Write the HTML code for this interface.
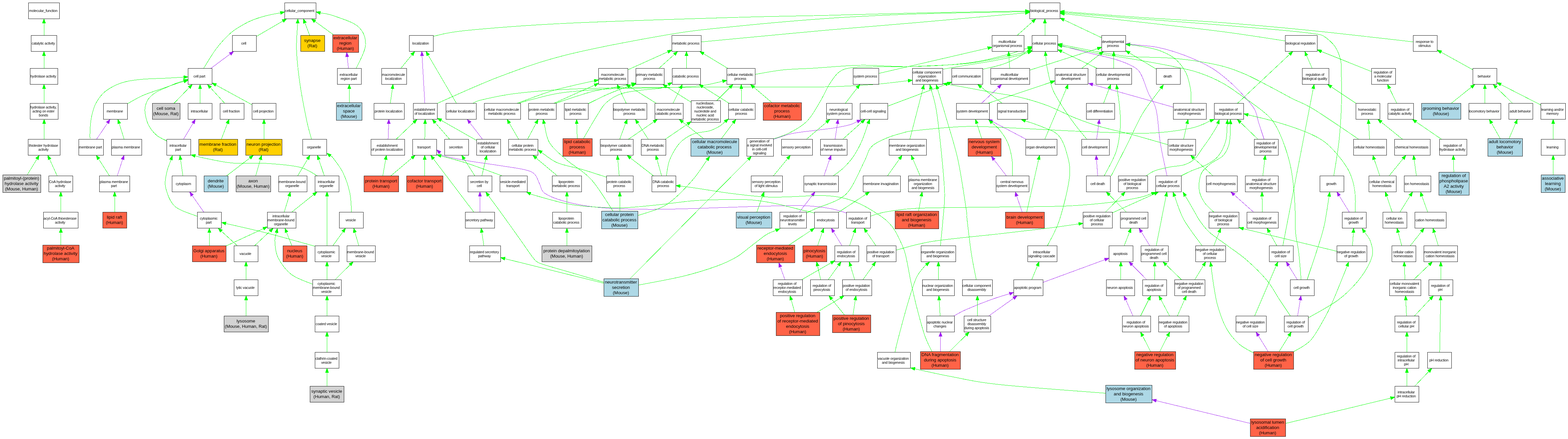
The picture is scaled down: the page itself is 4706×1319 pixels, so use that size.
<!DOCTYPE html>
<html lang="en"><head><meta charset="utf-8"><title>GO term graph</title>
<style>
html,body{margin:0;padding:0;background:#fff}
svg{display:block;will-change:transform}
text{font-family:"Liberation Sans",Arial,Helvetica,sans-serif;text-anchor:middle;fill:#000}
.s{font-size:10.67px;letter-spacing:-0.24px}
.b{font-size:13.33px;letter-spacing:-0.05px}
.n{stroke:#000;stroke-width:1;shape-rendering:crispEdges}
.g{stroke:#00ff00;fill:none;stroke-width:1;shape-rendering:crispEdges}
.p{stroke:#a020f0;fill:none;stroke-width:1;shape-rendering:crispEdges}
.ga{fill:#00ff00;stroke:#00ff00;stroke-width:1;shape-rendering:crispEdges}
.pa{fill:#a020f0;stroke:#a020f0;stroke-width:1;shape-rendering:crispEdges}
</style></head>
<body>
<svg width="4706" height="1319" viewBox="0 0 4706 1319">
<rect x="0" y="0" width="4706" height="1319" fill="#fff"/>
<path class="p" d="M632.7,205.5L690.8,162.3"/><path class="pa" d="M701.3,154.5L693.7,166.1L688,158.4Z"/>
<path class="p" d="M1045.8,205.5L1041.9,170.4"/><path class="pa" d="M1040.5,157.5L1046.7,169.9L1037.1,171Z"/>
<path class="p" d="M289.7,418.5L323,369.3"/><path class="pa" d="M330.3,358.5L327,372L319,366.6Z"/>
<path class="p" d="M550.7,418.5L579.7,369.7"/><path class="pa" d="M586.3,358.5L583.8,372.1L575.5,367.2Z"/>
<path class="p" d="M351.9,528.5L368.1,478.9"/><path class="pa" d="M372.1,466.5L372.7,480.3L363.5,477.4Z"/>
<path class="p" d="M611.8,637.5L576.7,587.2"/><path class="pa" d="M569.2,576.5L580.6,584.4L572.7,589.9Z"/>
<path class="p" d="M1275.1,310.5L1266.7,167.5"/><path class="pa" d="M1265.9,154.5L1271.5,167.2L1261.9,167.8Z"/>
<path class="p" d="M1164.9,418.5L1166.6,371.5"/><path class="pa" d="M1167.1,358.5L1171.4,371.7L1161.8,371.3Z"/>
<path class="p" d="M1448.2,418.5L1410.2,368.8"/><path class="pa" d="M1402.3,358.5L1414,365.9L1406.4,371.7Z"/>
<path class="p" d="M1440.5,637.5L1440.5,589.5"/><path class="pa" d="M1440.5,576.5L1445.3,589.5L1435.7,589.5Z"/>
<path class="p" d="M2540.5,640C2532.2,637.8 2513.1,630.2 2491,626.5C2468.9,622.8 2446.7,619 2408,618C2369.3,617 2313,619.1 2259,620.5C2205,621.9 2136.5,625.1 2084,626.5C2031.5,627.9 1990.6,629.4 1944,629C1897.4,628.6 1844.1,627.5 1804.5,624C1764.9,620.5 1734.4,615 1706.5,608C1678.6,601 1651.5,591.2 1637,582C1622.5,572.8 1624.8,562.1 1619.5,552.5C1614.2,542.9 1612.5,531.5 1605.5,524.5C1598.5,517.5 1595.1,515 1577.5,510.5C1559.9,506 1529.6,502.2 1500,497.5C1470.4,492.8 1428.3,487.5 1400,482.5C1371.7,477.5 1343.3,471.5 1330,467.5C1316.7,463.5 1321.8,460.2 1320.2,458.7"/><path class="pa" d="M1310.5,450L1323.4,455.1L1317,462.3Z"/>
<path class="p" d="M2399,637.5L2438.1,586.8"/><path class="pa" d="M2446,576.5L2441.9,589.7L2434.3,583.9Z"/>
<path class="p" d="M2472.8,528.5L2490,478.8"/><path class="pa" d="M2494.2,466.5L2494.5,480.4L2485.4,477.2Z"/>
<path class="p" d="M2321.5,418.5C2328.9,416.1 2352.9,407.5 2366,404C2379.1,400.5 2377.7,400.7 2400,397.5C2422.3,394.3 2475,388.8 2500,385C2525,381.2 2537.8,378.3 2550,375C2562.2,371.7 2569.2,366.8 2573.1,365.1"/><path class="pa" d="M2585,360L2574.9,369.5L2571.2,360.7Z"/>
<path class="p" d="M2506.2,418.5L2513.4,371.4"/><path class="pa" d="M2515.3,358.5L2518.1,372.1L2508.6,370.6Z"/>
<path class="p" d="M2355.9,840.5L2341.9,801.7"/><path class="pa" d="M2337.5,789.5L2346.4,800.1L2337.4,803.4Z"/>
<path class="p" d="M2945.6,310.5L2996.9,262.4"/><path class="pa" d="M3006.4,253.5L3000.2,265.9L2993.6,258.9Z"/>
<path class="p" d="M3521.5,322L3279.5,254"/><path class="pa" d="M3267,250.5L3280.8,249.4L3278.2,258.6Z"/>
<path class="p" d="M3794,418.5C3791.3,410.4 3782.8,384.9 3778,370C3773.2,355.1 3773.1,342.8 3765.5,329C3757.9,315.2 3744.9,301.3 3732.5,287.5C3720.1,273.7 3706.9,259.8 3691,246C3675.1,232.2 3659.1,217.6 3637,204.5C3614.9,191.4 3585.4,177.8 3558.5,167.5C3531.6,157.2 3503.3,148.2 3475.5,142.5C3447.7,136.8 3405.4,134.9 3391.4,133.4"/><path class="pa" d="M3378.5,132L3391.9,128.6L3390.9,138.2Z"/>
<path class="p" d="M3291.3,418.5L3297.9,371.4"/><path class="pa" d="M3299.7,358.5L3302.6,372L3293.1,370.7Z"/>
<path class="p" d="M3294.6,528.5L3290.9,479.5"/><path class="pa" d="M3289.9,466.5L3295.6,479.1L3286.1,479.8Z"/>
<path class="p" d="M3079.8,418.5L2977.2,364.5"/><path class="pa" d="M2965.7,358.5L2979.4,360.3L2974.9,368.8Z"/>
<path class="p" d="M3020.6,528.5L2983.2,479.8"/><path class="pa" d="M2975.3,469.5L2987,476.9L2979.4,482.7Z"/>
<path class="p" d="M3067.9,637.5L3051.3,588.8"/><path class="pa" d="M3047.1,576.5L3055.9,587.3L3046.8,590.4Z"/>
<path class="p" d="M3502.5,528.5C3499.2,512.1 3487.9,463.1 3482.5,430C3477.1,396.9 3476,355.1 3470,330C3464,304.9 3453.9,296.9 3446.5,279.5C3439.1,262.1 3432.4,238.3 3425.5,225.5C3418.6,212.7 3417.4,210.2 3405,202.5C3392.6,194.8 3373.8,186.8 3351,179.5C3328.2,172.2 3295.3,166 3268,159C3240.7,152 3200.5,141 3187.1,137.4"/><path class="pa" d="M3174.5,134L3188.3,132.7L3185.8,142Z"/>
<path class="p" d="M3450.9,738.5L3425.4,696.6"/><path class="pa" d="M3418.6,685.5L3429.5,694.1L3421.3,699.1Z"/>
<path class="p" d="M2527,738.5L2501.7,696.6"/><path class="pa" d="M2495,685.5L2505.8,694.1L2497.6,699.1Z"/>
<path class="p" d="M2822.6,1056.5L2822.8,1010.5"/><path class="pa" d="M2822.9,997.5L2827.6,1010.5L2818,1010.5Z"/>
<path class="p" d="M2862.5,949.5C2868.8,946.2 2881.2,938.2 2900,930C2918.8,921.8 2953.3,907.9 2975,900C2996.7,892.1 3020.9,885.4 3030.1,882.4"/><path class="pa" d="M3042.5,878.5L3031.6,887L3028.7,877.9Z"/>
<path class="p" d="M2967.2,949.5L3042.2,896"/><path class="pa" d="M3052.8,888.5L3045,900L3039.4,892.1Z"/>
<path class="p" d="M3130.5,848.4L3316.3,780.2"/><path class="pa" d="M3328.5,775.7L3317.9,784.7L3314.6,775.7Z"/>
<path class="p" d="M3441.7,840.5L3397.4,795.7"/><path class="pa" d="M3388.3,786.5L3400.8,792.4L3394,799.1Z"/>
<path class="p" d="M3400.4,949.5L3378.8,900.4"/><path class="pa" d="M3373.6,888.5L3383.2,898.5L3374.4,902.3Z"/>
<path class="p" d="M3752.5,1272.2L3470.1,1203.9"/><path class="pa" d="M3457.5,1200.8L3471.3,1199.2L3469,1208.5Z"/>
<path class="p" d="M4049.7,637.5L4019.1,587.6"/><path class="pa" d="M4012.3,576.5L4023.1,585.1L4015,590.1Z"/>
<path class="p" d="M3893.7,840.5L3867.2,797.6"/><path class="pa" d="M3860.3,786.5L3871.2,795L3863.1,800.1Z"/>
<path class="p" d="M3894.5,949.5L3902.4,901.3"/><path class="pa" d="M3904.5,888.5L3907.2,902.1L3897.7,900.5Z"/>
<path class="p" d="M3806.2,1056.5L3776.6,1008.6"/><path class="pa" d="M3769.8,997.5L3780.7,1006L3772.5,1011.1Z"/>
<path class="p" d="M3762.5,637.5L3703.7,585.1"/><path class="pa" d="M3694,576.5L3706.9,581.6L3700.5,588.7Z"/>
<path class="g" d="M132,106.5L132,69.5"/><path class="ga" d="M132,56.5L136.8,69.5L127.2,69.5Z"/>
<path class="g" d="M132,205.5L132,167.5"/><path class="ga" d="M132,154.5L136.8,167.5L127.2,167.5Z"/>
<path class="g" d="M132.4,310.5L132.2,266.5"/><path class="ga" d="M132.1,253.5L137,266.5L127.4,266.5Z"/>
<path class="g" d="M132.5,418.5L132.5,371.5"/><path class="ga" d="M132.5,358.5L137.3,371.5L127.7,371.5Z"/>
<path class="g" d="M81.7,525.5L111,477.6"/><path class="ga" d="M117.8,466.5L115.1,480.1L106.9,475.1Z"/>
<path class="g" d="M171.6,528.5L148.8,478.3"/><path class="ga" d="M143.4,466.5L153.2,476.3L144.4,480.3Z"/>
<path class="g" d="M182.5,637.5L182.5,589.5"/><path class="ga" d="M182.5,576.5L187.3,589.5L177.7,589.5Z"/>
<path class="g" d="M182.9,736.5L182.7,698.5"/><path class="ga" d="M182.6,685.5L187.5,698.5L177.9,698.5Z"/>
<path class="g" d="M769.5,109.5L849.1,63.1"/><path class="ga" d="M860.4,56.5L851.5,67.2L846.7,58.9Z"/>
<path class="g" d="M611,205.5C617.5,195.4 636.6,162.6 650,145C663.4,127.4 679,111.3 691.5,100C704,88.7 713.6,83.8 725,77C736.4,70.2 747.5,64.5 760,59.5C772.5,54.5 786.4,50.5 800,47C813.6,43.5 834.8,40 841.8,38.6"/><path class="ga" d="M854.5,36L842.7,43.3L840.8,33.9Z"/>
<path class="g" d="M929.4,106.5L915.2,68.7"/><path class="ga" d="M910.6,56.5L919.6,67L910.7,70.4Z"/>
<path class="g" d="M1000.9,104.5L945.2,64.1"/><path class="ga" d="M934.6,56.5L948,60.2L942.4,68Z"/>
<path class="g" d="M1069,205.5C1073.7,193.8 1096,155.9 1097,135C1098,114.1 1091.2,94.7 1075,80C1058.8,65.3 1019,53.9 1000,47C981,40.1 967.7,40.1 961.2,38.7"/><path class="ga" d="M948.5,36L962.2,34L960.2,43.4Z"/>
<path class="g" d="M1048.1,308.5L1048.3,266.5"/><path class="ga" d="M1048.4,253.5L1053.1,266.5L1043.5,266.5Z"/>
<path class="g" d="M935,418.5C932.5,408.8 925.8,388.1 920,360C914.2,331.9 905,285 900,250C895,215 891.1,180.1 890,150C888.9,119.9 892.9,82.9 893.4,69.5"/><path class="ga" d="M894,56.5L898.2,69.7L888.6,69.3Z"/>
<path class="g" d="M383,311.5C390.8,307.3 410.7,294.6 429.5,286.5C448.3,278.4 479.4,268.8 496,263C512.6,257.2 519.7,254.6 529,251.5C538.3,248.4 548.2,245.8 552,244.7"/><path class="ga" d="M564.5,241L553.4,249.3L550.7,240.1Z"/>
<path class="g" d="M270,418.5C270.1,413.1 269.7,397.5 270.5,386C271.3,374.5 272.3,361.7 275,349.5C277.7,337.3 280.7,324.6 286.5,313C292.3,301.4 300.6,289.2 310,280C319.4,270.8 331.4,263.8 343,258C354.6,252.2 365.1,248.3 379.5,245C393.9,241.7 410.1,239.7 429.5,238C448.9,236.3 475.7,236 496,235C516.3,234 542.3,232.3 551.5,231.8"/><path class="ga" d="M564.5,231L551.8,236.5L551.2,227Z"/>
<path class="g" d="M500.5,423.5C495.3,420.6 478.6,413.9 469.5,406C460.4,398.1 451.6,386.5 446,376C440.4,365.5 437.7,352.3 436,343C434.3,333.7 434.3,327.8 436,320C437.7,312.2 440.4,303.8 446,296.5C451.6,289.2 460.1,282.3 469.5,276.5C478.9,270.7 492.6,265.9 502.5,261.5C512.4,257.1 520.7,253.2 529,250C537.3,246.8 548.3,243.8 552.1,242.5"/><path class="ga" d="M564.5,238.5L553.6,247.1L550.7,237.9Z"/>
<path class="g" d="M522.2,310.5L568.3,262.8"/><path class="ga" d="M577.3,253.5L571.7,266.2L564.8,259.5Z"/>
<path class="g" d="M600.5,310.5L600.5,266.5"/><path class="ga" d="M600.5,253.5L605.3,266.5L595.7,266.5Z"/>
<path class="g" d="M674.6,310.5L631.2,263.1"/><path class="ga" d="M622.4,253.5L634.8,259.9L627.7,266.3Z"/>
<path class="g" d="M756.5,314.8L647.9,255.4"/><path class="ga" d="M636.5,249.2L650.2,251.2L645.6,259.6Z"/>
<path class="g" d="M372.6,418.5L357.8,370.9"/><path class="ga" d="M353.9,358.5L362.4,369.5L353.2,372.3Z"/>
<path class="g" d="M664.2,418.5L682.6,370.6"/><path class="ga" d="M687.3,358.5L687.1,372.4L678.1,368.9Z"/>
<path class="g" d="M792.1,418.5L792.3,371.5"/><path class="ga" d="M792.4,358.5L797.1,371.5L787.5,371.5Z"/>
<path class="g" d="M328.6,528.5L295.9,477.4"/><path class="ga" d="M288.9,466.5L299.9,474.9L291.9,480Z"/>
<path class="g" d="M344.4,637.5L344.2,589.5"/><path class="ga" d="M344.1,576.5L349,589.5L339.4,589.5Z"/>
<path class="g" d="M549,528.5L541.9,479.4"/><path class="ga" d="M540,466.5L546.6,478.7L537.1,480.1Z"/>
<path class="g" d="M592.5,650C581.2,645 540.8,634.2 525,620C509.2,605.8 501.7,581.7 497.5,565C493.3,548.3 497.4,534.2 500,520C502.6,505.8 511.2,486.5 513.4,479.8"/><path class="ga" d="M517.5,467.5L517.9,481.4L508.8,478.3Z"/>
<path class="g" d="M952.5,528.5C943.8,524.2 925.4,508.8 900,502.5C874.6,496.2 833.3,493.1 800,491C766.7,488.9 729.2,492.2 700,490C670.8,487.8 644.1,481.1 625,477.5C605.9,473.9 592.2,469.9 585.7,468.4"/><path class="ga" d="M573,465.5L586.7,463.7L584.6,473.1Z"/>
<path class="g" d="M679.8,528.5L750.4,474.4"/><path class="ga" d="M760.7,466.5L753.3,478.2L747.5,470.6Z"/>
<path class="g" d="M767.4,528.5L781.5,479"/><path class="ga" d="M785.1,466.5L786.2,480.3L776.9,477.7Z"/>
<path class="g" d="M893.3,528.5L923.6,477.7"/><path class="ga" d="M930.2,466.5L927.7,480.1L919.4,475.2Z"/>
<path class="g" d="M973.4,528.5L956.7,478.8"/><path class="ga" d="M952.6,466.5L961.3,477.3L952.2,480.4Z"/>
<path class="g" d="M1055,637.5C1054.2,627.9 1054.2,599.6 1050,580C1045.8,560.4 1038.3,537.5 1030,520C1021.7,502.5 1006.5,483.7 1000,475C993.5,466.3 992.7,469.2 991.2,468.1"/><path class="ga" d="M981,460L994.2,464.3L988.2,471.8Z"/>
<path class="g" d="M852.9,637.5L867.8,588.9"/><path class="ga" d="M871.6,576.5L872.4,590.3L863.2,587.5Z"/>
<path class="g" d="M875.4,637.5L941.4,584.6"/><path class="ga" d="M951.6,576.5L944.4,588.4L938.4,580.9Z"/>
<path class="g" d="M981.5,738.5L981.5,589.5"/><path class="ga" d="M981.5,576.5L986.3,589.5L976.7,589.5Z"/>
<path class="g" d="M628.1,738.5L628.3,698.5"/><path class="ga" d="M628.4,685.5L633.1,698.5L623.5,698.5Z"/>
<path class="g" d="M678.5,739L790.7,686.9"/><path class="ga" d="M802.5,681.5L792.7,691.3L788.7,682.6Z"/>
<path class="g" d="M712.4,738.5L664.2,694.3"/><path class="ga" d="M654.6,685.5L667.5,690.8L661,697.8Z"/>
<path class="g" d="M763.9,738.5L810.6,694.4"/><path class="ga" d="M820.1,685.5L813.9,697.9L807.3,690.9Z"/>
<path class="g" d="M876,738.5L859.8,697.6"/><path class="ga" d="M855,685.5L864.3,695.8L855.3,699.4Z"/>
<path class="g" d="M945.5,740C921.2,733.3 844.6,711.4 800,700C755.4,688.6 698,676.2 677.7,671.5"/><path class="ga" d="M665,668.5L678.8,666.8L676.6,676.1Z"/>
<path class="g" d="M998.8,738.5L1029.5,696"/><path class="ga" d="M1037.2,685.5L1033.4,698.8L1025.6,693.2Z"/>
<path class="g" d="M1077,738.5L1065.2,698"/><path class="ga" d="M1061.5,685.5L1069.8,696.6L1060.5,699.3Z"/>
<path class="g" d="M938.5,854C927.9,849.2 892.2,838.2 875,825C857.8,811.8 843.3,791.7 835,775C826.7,758.3 825.8,737.7 825,725C824.2,712.3 829.2,703.1 830,698.8"/><path class="ga" d="M832.5,686L834.8,699.7L825.3,697.9Z"/>
<path class="g" d="M981.5,840.5L981.5,799.5"/><path class="ga" d="M981.5,786.5L986.3,799.5L976.7,799.5Z"/>
<path class="g" d="M1005.6,840.5L1050.7,795.7"/><path class="ga" d="M1059.9,786.5L1054.1,799.1L1047.3,792.3Z"/>
<path class="g" d="M738.5,840.5L738.5,799.5"/><path class="ga" d="M738.5,786.5L743.3,799.5L733.7,799.5Z"/>
<path class="g" d="M738.9,949.5L738.7,901.5"/><path class="ga" d="M738.6,888.5L743.5,901.5L733.9,901.5Z"/>
<path class="g" d="M981.5,949.5L981.5,901.5"/><path class="ga" d="M981.5,888.5L986.3,901.5L976.7,901.5Z"/>
<path class="g" d="M981.5,1058.5L981.5,1010.5"/><path class="ga" d="M981.5,997.5L986.3,1010.5L976.7,1010.5Z"/>
<path class="g" d="M981.5,1160.5L981.5,1119.5"/><path class="ga" d="M981.5,1106.5L986.3,1119.5L976.7,1119.5Z"/>
<path class="g" d="M1171.4,310.5L1177.7,266.4"/><path class="ga" d="M1179.6,253.5L1182.5,267L1173,265.7Z"/>
<path class="g" d="M1202.8,205.5L1236.5,164.5"/><path class="ga" d="M1244.7,154.5L1240.2,167.6L1232.8,161.5Z"/>
<path class="g" d="M1369.9,310.5L1285.1,165.7"/><path class="ga" d="M1278.6,154.5L1289.3,163.3L1281,168.1Z"/>
<path class="g" d="M1300.5,109C1317.1,106.1 1333.4,98 1400,91.5C1466.6,85 1566.7,76.5 1700,70C1833.3,63.5 2068.7,56.5 2200,52.5C2331.3,48.5 2396.3,48.2 2488,46C2579.7,43.8 2651.7,41.1 2750,39C2848.3,36.9 3022.9,34.2 3077.5,33.2"/><path class="ga" d="M3090.5,33L3077.6,38L3077.4,28.4Z"/>
<path class="g" d="M1312.5,310.5C1343.8,297.1 1435.4,254.2 1500,230C1564.6,205.8 1616.7,185.8 1700,165C1783.3,144.2 1916.7,119.2 2000,105C2083.3,90.8 2118.7,88.3 2200,80C2281.3,71.7 2396.3,61.3 2488,55C2579.7,48.7 2651.7,45.3 2750,42C2848.3,38.7 3022.9,36.4 3077.5,35.3"/><path class="ga" d="M3090.5,35L3077.6,40.1L3077.4,30.5Z"/>
<path class="g" d="M2104.5,126C2137.1,122.9 2236.1,113.5 2300,107.5C2363.9,101.5 2413,96.6 2488,90C2563,83.4 2651.7,76.6 2750,68C2848.3,59.4 3023,43.5 3077.6,38.7"/><path class="ga" d="M3090.5,37.5L3078,43.4L3077.1,33.9Z"/>
<path class="g" d="M1884.5,209.7L2004.6,155.6"/><path class="ga" d="M2016.5,150.3L2006.6,160L2002.7,151.3Z"/>
<path class="g" d="M1977.5,205.5L2024.3,163.2"/><path class="ga" d="M2034,154.5L2027.5,166.8L2021.1,159.7Z"/>
<path class="g" d="M2060.1,205.5L2060.3,167.5"/><path class="ga" d="M2060.4,154.5L2065.1,167.5L2055.5,167.5Z"/>
<path class="g" d="M2184.4,205.5L2111.3,161.2"/><path class="ga" d="M2100.1,154.5L2113.7,157.1L2108.8,165.3Z"/>
<path class="g" d="M2266.5,223.5C2280.4,221.2 2321.1,213.1 2350,210C2378.9,206.9 2401,207.3 2440,205C2479,202.7 2536,196.8 2584,196C2632,195.2 2675.3,201 2728,200C2780.7,199 2851.3,195.8 2900,190C2948.7,184.2 2989.1,172.7 3020,165C3050.9,157.3 3074.3,147.5 3085.1,144"/><path class="ga" d="M3097.5,140L3086.6,148.6L3083.7,139.4Z"/>
<path class="g" d="M2321,417.5C2328.8,414.6 2351.2,408.9 2368,400C2384.8,391.1 2406.5,379.7 2422,364C2437.5,348.3 2449.7,324.7 2461,306C2472.3,287.3 2480.3,267 2490,252C2499.7,237 2508.2,224.1 2519,216C2529.8,207.9 2538.2,206 2555,203.5C2571.8,201 2591.2,201.6 2620,201C2648.8,200.4 2681.3,201.7 2728,200C2774.7,198.3 2851.3,196 2900,191C2948.7,186 2989.2,176 3020,170C3050.8,164 3074,157.5 3084.8,154.9"/><path class="ga" d="M3097.5,152L3085.9,159.6L3083.8,150.3Z"/>
<path class="g" d="M1420.5,310C1424.1,308.5 1423.4,305.5 1442,301C1460.6,296.5 1499,287.8 1532,283C1565,278.2 1604,274.8 1640,272C1676,269.2 1704.7,268 1748,266.5C1791.3,265 1841.3,263.8 1900,263C1958.7,262.2 2033.3,262.2 2100,262C2166.7,261.8 2237.3,262.2 2300,262C2362.7,261.8 2422.7,262.3 2476,261C2529.3,259.7 2578.4,257.1 2620,254C2661.6,250.9 2708,244.3 2725.6,242.4"/><path class="ga" d="M2738.5,241L2726.1,247.2L2725.1,237.6Z"/>
<path class="g" d="M1552,310.5C1568.3,304.6 1622,283.9 1650,275C1678,266.1 1697.7,262.4 1720,257C1742.3,251.6 1773.2,245.2 1783.8,242.8"/><path class="ga" d="M1796.5,240L1784.9,247.5L1782.8,238.1Z"/>
<path class="g" d="M1556,310.5C1563.3,308.4 1578,303.3 1600,298C1622,292.7 1648.8,283.7 1688,278.5C1727.2,273.3 1785.8,269.4 1835,267C1884.2,264.6 1938.8,265.5 1983,264C2027.2,262.5 2069,261.3 2100,258C2131,254.7 2157.3,246.4 2168.8,244.1"/><path class="ga" d="M2181.5,241.5L2169.7,248.8L2167.8,239.4Z"/>
<path class="g" d="M1662,310.5L1784.6,255.8"/><path class="ga" d="M1796.5,250.5L1786.6,260.2L1782.7,251.4Z"/>
<path class="g" d="M1667,310.5C1685.2,304.7 1743,284.1 1776,275.5C1809,266.9 1845,262.8 1865,259C1885,255.2 1890.6,253.7 1895.8,252.6"/><path class="ga" d="M1908.5,250L1896.7,257.3L1894.8,247.9Z"/>
<path class="g" d="M1765.5,311.5C1774.6,307.1 1802.6,292.8 1820,285C1837.4,277.2 1857.2,269.8 1870,265C1882.8,260.2 1892.2,257.6 1896.7,256.1"/><path class="ga" d="M1909,252L1898.2,260.7L1895.1,251.6Z"/>
<path class="g" d="M1751,416.5C1757.5,405.4 1778.5,368.1 1790,350C1801.5,331.9 1807.5,319.4 1820,308C1832.5,296.6 1847.7,287.7 1865,281.5C1882.3,275.3 1904.3,273.8 1924,271C1943.7,268.2 1969.4,267.9 1983,265C1996.6,262.1 2002,255.6 2005.8,253.7"/><path class="ga" d="M2017.5,248L2008,258.1L2003.7,249.4Z"/>
<path class="g" d="M1732.5,416.5L1730.9,371.5"/><path class="ga" d="M1730.4,358.5L1735.7,371.3L1726.1,371.7Z"/>
<path class="g" d="M1879.5,310.5L1857.7,265.2"/><path class="ga" d="M1852,253.5L1862,263.1L1853.4,267.3Z"/>
<path class="g" d="M1969.7,310.5L1889.8,260.4"/><path class="ga" d="M1878.8,253.5L1892.3,256.3L1887.3,264.5Z"/>
<path class="g" d="M2019.9,310.5L2042.3,265.1"/><path class="ga" d="M2048.1,253.5L2046.6,267.3L2038,263Z"/>
<path class="g" d="M2074.5,307.3L2000.1,260.4"/><path class="ga" d="M1989.1,253.5L2002.7,256.4L1997.5,264.5Z"/>
<path class="g" d="M2151,302.5L2190.8,262.7"/><path class="ga" d="M2200,253.5L2194.2,266.1L2187.4,259.3Z"/>
<path class="g" d="M2188.4,310.5L2109.1,260.4"/><path class="ga" d="M2098.1,253.5L2111.6,256.4L2106.5,264.5Z"/>
<path class="g" d="M2225.9,310.5L2224.9,266.5"/><path class="ga" d="M2224.6,253.5L2229.7,266.4L2220.1,266.6Z"/>
<path class="g" d="M2316.9,308.5L2262.1,261.9"/><path class="ga" d="M2252.2,253.5L2265.2,258.3L2259,265.6Z"/>
<path class="g" d="M1189,418.5L1242.1,367.5"/><path class="ga" d="M1251.5,358.5L1245.4,371L1238.8,364Z"/>
<path class="g" d="M1148.8,528.5L1157.5,479.3"/><path class="ga" d="M1159.7,466.5L1162.2,480.1L1152.7,478.5Z"/>
<path class="g" d="M1172.9,528.5L1236.2,474.9"/><path class="ga" d="M1246.1,466.5L1239.3,478.6L1233.1,471.2Z"/>
<path class="g" d="M1274.9,528.5L1274.7,479.5"/><path class="ga" d="M1274.6,466.5L1279.5,479.5L1269.9,479.5Z"/>
<path class="g" d="M1274.9,418.5L1275.8,371.5"/><path class="ga" d="M1276.1,358.5L1280.6,371.6L1271,371.4Z"/>
<path class="g" d="M1349.6,418.5L1305.9,368.3"/><path class="ga" d="M1297.4,358.5L1309.5,365.2L1302.3,371.5Z"/>
<path class="g" d="M1430.5,422L1323.8,361.4"/><path class="ga" d="M1312.5,355L1326.2,357.2L1321.4,365.6Z"/>
<path class="g" d="M1556.6,418.5L1528.4,369.8"/><path class="ga" d="M1521.9,358.5L1532.6,367.3L1524.2,372.2Z"/>
<path class="g" d="M1583.3,418.5L1609.1,370"/><path class="ga" d="M1615.2,358.5L1613.3,372.2L1604.9,367.7Z"/>
<path class="g" d="M1859.9,418.5L1877.6,370.7"/><path class="ga" d="M1882.1,358.5L1882.1,372.4L1873.1,369Z"/>
<path class="g" d="M1885.9,418.5L1962.4,365.9"/><path class="ga" d="M1973.1,358.5L1965.1,369.8L1959.7,361.9Z"/>
<path class="g" d="M1945.8,418.5L1913.8,369.4"/><path class="ga" d="M1906.7,358.5L1917.8,366.8L1909.8,372Z"/>
<path class="g" d="M1996.6,418.5L2063.8,372.5"/><path class="ga" d="M2074.5,365.1L2066.5,376.4L2061.1,368.5Z"/>
<path class="g" d="M2111.9,416.5L2048.6,366.6"/><path class="ga" d="M2038.4,358.5L2051.6,362.8L2045.6,370.3Z"/>
<path class="g" d="M2165.3,416.5L2200.8,368.9"/><path class="ga" d="M2208.6,358.5L2204.7,371.8L2197,366Z"/>
<path class="g" d="M2000,528.5C2001.7,520.4 2003.3,496.4 2010,480C2016.7,463.6 2028.3,442.8 2040,430C2051.7,417.2 2065,409.2 2080,403C2095,396.8 2116.7,397 2130,393C2143.3,389 2152.3,383.6 2160,379C2167.7,374.4 2173.7,367.6 2176.5,365.3"/><path class="ga" d="M2186.5,357L2179.6,369L2173.4,361.6Z"/>
<path class="g" d="M1425.2,528.5L1392.8,477.5"/><path class="ga" d="M1385.8,466.5L1396.8,474.9L1388.7,480Z"/>
<path class="g" d="M1446.2,528.5L1457.8,479.2"/><path class="ga" d="M1460.8,466.5L1462.5,480.3L1453.2,478Z"/>
<path class="g" d="M1507.5,528.5C1489.6,522.1 1430.7,500 1400,490C1369.3,480 1336.3,472.1 1323.5,468.5"/><path class="ga" d="M1311,465L1324.8,463.9L1322.2,473.1Z"/>
<path class="g" d="M1672.9,528.5L1609,474.9"/><path class="ga" d="M1599.1,466.5L1612.1,471.2L1606,478.5Z"/>
<path class="g" d="M1820.5,532.5C1808.8,528.8 1774.2,517.1 1750,510C1725.8,502.9 1694.2,497.5 1675,490C1655.8,482.5 1643.3,470.4 1635,465C1626.7,459.6 1626.7,458.9 1625,457.7"/><path class="ga" d="M1614.5,450L1627.8,453.8L1622.2,461.6Z"/>
<path class="g" d="M1858.4,528.5L1854.2,479.5"/><path class="ga" d="M1853.1,466.5L1859,479L1849.4,479.9Z"/>
<path class="g" d="M1961.6,528.5L1892.1,474.5"/><path class="ga" d="M1881.9,466.5L1895.1,470.7L1889.2,478.3Z"/>
<path class="g" d="M1985.7,528.5L1971.8,479"/><path class="ga" d="M1968.3,466.5L1976.4,477.7L1967.2,480.3Z"/>
<path class="g" d="M1422.3,637.5L1300.5,476.9"/><path class="ga" d="M1292.7,466.5L1304.4,474L1296.7,479.8Z"/>
<path class="g" d="M1812.5,848C1793.8,842.5 1728.8,823.4 1700,815C1671.2,806.6 1654.3,802 1640,797.5C1625.7,793 1621,792.2 1614,788C1607,783.8 1607,783.7 1598,772C1589,760.3 1574.7,738.7 1560,718C1545.3,697.3 1525.7,669.8 1510,648C1494.3,626.2 1473.1,597.6 1465.7,587.5"/><path class="ga" d="M1458,577L1469.6,584.7L1461.8,590.3Z"/>
<path class="g" d="M1701.5,637.5L1701.5,589.5"/><path class="ga" d="M1701.5,576.5L1706.3,589.5L1696.7,589.5Z"/>
<path class="g" d="M1860.1,634.5L1860.3,589.5"/><path class="ga" d="M1860.4,576.5L1865.1,589.5L1855.5,589.5Z"/>
<path class="g" d="M1840,634.5C1829.2,618.8 1798.3,565.8 1775,540C1751.7,514.2 1720.8,498.3 1700,480C1679.2,461.7 1660.8,446.7 1650,430C1639.2,413.3 1637.8,389.8 1635,380C1632.2,370.2 1633.3,372.6 1632.9,371.2"/><path class="ga" d="M1630,358.5L1637.6,370.1L1628.3,372.2Z"/>
<path class="g" d="M1914.5,647.5C1928.8,642.1 1973.2,632.1 2000,615C2026.8,597.9 2054.6,567.4 2075,545C2095.4,522.6 2114.4,491.2 2122.3,480.5"/><path class="ga" d="M2130,470L2126.2,483.3L2118.4,477.6Z"/>
<path class="g" d="M2444.5,640C2436.8,638.2 2417.8,633.7 2398.5,629C2379.2,624.3 2352.2,616.7 2329,612C2305.8,607.3 2282.3,603.1 2259,601C2235.7,598.9 2218.2,599.2 2189,599.5C2159.8,599.8 2119,600.4 2084,603C2049,605.6 2013.9,611.5 1979,615C1944.1,618.5 1906.5,622.8 1874.5,624C1842.5,625.2 1816.1,624 1787,622C1757.9,620 1732,618.3 1700,612C1668,605.7 1613,588.9 1595,584C1577,579.1 1592.3,582.7 1591.8,582.5"/><path class="ga" d="M1580,577L1593.8,578.1L1589.8,586.8Z"/>
<path class="g" d="M2797,1056.5C2793.3,1048.2 2782.5,1028.8 2775,1007C2767.5,985.2 2758.8,951.7 2752,925.5C2745.2,899.3 2740.3,877.1 2734.5,850C2728.7,822.9 2722.8,784.7 2717,763C2711.2,741.3 2705.8,732.7 2700,720C2694.2,707.3 2688.7,696.7 2682,687C2675.3,677.3 2668.7,669.8 2660,662C2651.3,654.2 2641.7,648 2630,640.5C2618.3,633 2603.5,623.8 2590,617C2576.5,610.2 2562.3,604.3 2549,600C2535.7,595.7 2524.8,593.1 2510,591C2495.2,588.9 2484.4,587.4 2460,587.5C2435.6,587.6 2391.2,590.8 2363.5,591.5C2335.8,592.2 2322.6,593.3 2293.5,591.5C2264.4,589.7 2223.9,585 2189,580.5C2154.1,576 2108.6,568.1 2084,564.5C2059.4,560.9 2048.5,560 2041.4,559.1"/><path class="ga" d="M2028.5,557.5L2042,554.4L2040.8,563.9Z"/>
<path class="g" d="M2420.5,640C2425.2,637.8 2433.1,633.2 2449,626.5C2464.9,619.8 2498.7,609.6 2516,599.5C2533.3,589.4 2539.8,585.4 2553,566C2566.2,546.6 2584.7,503.8 2595,483C2605.3,462.2 2604.7,452.6 2615,441.5C2625.3,430.4 2641.7,423.4 2657,416.5C2672.3,409.6 2691.5,404.1 2707,400C2722.5,395.9 2717.8,395.3 2750,392C2782.2,388.7 2850,381.2 2900,380C2950,378.8 2991.7,382.5 3050,385C3108.3,387.5 3183.3,392.5 3250,395C3316.7,397.5 3395.8,401.7 3450,400C3504.2,398.3 3544.6,391.1 3575,385C3605.4,378.9 3622.8,366.8 3632.4,363.1"/><path class="ga" d="M3644.5,358.5L3634.1,367.6L3630.6,358.6Z"/>
<path class="g" d="M2501,528.5C2506.2,524.4 2522,513.7 2532,504C2542,494.3 2552,483.7 2561,470.5C2570,457.3 2578.6,441.6 2586,425C2593.4,408.4 2602.3,379.8 2605.6,370.7"/><path class="ga" d="M2610,358.5L2610.1,372.4L2601.1,369.1Z"/>
<path class="g" d="M2321.2,528.5L2364,476.5"/><path class="ga" d="M2372.3,466.5L2367.7,479.6L2360.3,473.5Z"/>
<path class="g" d="M2271.5,637.5L2288.7,588.8"/><path class="ga" d="M2293,576.5L2293.2,590.4L2284.2,587.2Z"/>
<path class="g" d="M1890.7,837.5L2246.1,478.7"/><path class="ga" d="M2255.3,469.5L2249.5,482.1L2242.7,475.4Z"/>
<path class="g" d="M2420.2,418.5L2480.9,366.9"/><path class="ga" d="M2490.8,358.5L2484,370.6L2477.8,363.3Z"/>
<path class="g" d="M2529.3,418.5L2586.5,367.2"/><path class="ga" d="M2596.2,358.5L2589.7,370.8L2583.3,363.6Z"/>
<path class="g" d="M2537.3,310.5L2572.8,263.8"/><path class="ga" d="M2580.7,253.5L2576.7,266.7L2569,260.9Z"/>
<path class="g" d="M1452.3,738.5L1446.2,698.3"/><path class="ga" d="M1444.2,685.5L1450.9,697.6L1441.4,699.1Z"/>
<path class="g" d="M1701.5,738.5L1701.5,698.5"/><path class="ga" d="M1701.5,685.5L1706.3,698.5L1696.7,698.5Z"/>
<path class="g" d="M1812.5,851.1L1515.1,777.2"/><path class="ga" d="M1502.5,774.1L1516.3,772.5L1514,781.8Z"/>
<path class="g" d="M1916.5,856.5C1938.8,852.1 2011.1,839.4 2050,830C2088.9,820.6 2123.3,809.6 2150,800C2176.7,790.4 2191.7,783.3 2210,772.5C2228.3,761.7 2245,746.2 2260,735C2275,723.8 2288.6,712.1 2300,705C2311.4,697.9 2323.9,694.4 2328.6,692.3"/><path class="ga" d="M2340.5,687L2330.6,696.7L2326.7,687.9Z"/>
<path class="g" d="M2367.8,736.5L2433.7,692.7"/><path class="ga" d="M2444.5,685.5L2436.3,696.7L2431,688.7Z"/>
<path class="g" d="M2453.8,738.5L2467.9,697.8"/><path class="ga" d="M2472.2,685.5L2472.5,699.4L2463.4,696.2Z"/>
<path class="g" d="M2406.1,840.5L2494.2,789.7"/><path class="ga" d="M2505.5,783.2L2496.6,793.9L2491.8,785.6Z"/>
<path class="g" d="M2385.2,938.5L2374.7,901"/><path class="ga" d="M2371.2,888.5L2379.3,899.7L2370.1,902.3Z"/>
<path class="g" d="M2452,938.5L2522.3,895.3"/><path class="ga" d="M2533.4,888.5L2524.9,899.4L2519.8,891.2Z"/>
<path class="g" d="M3052.6,106.5L3099.2,65.1"/><path class="ga" d="M3108.9,56.5L3102.4,68.7L3096,61.5Z"/>
<path class="g" d="M3136,106.5L3136,69.5"/><path class="ga" d="M3136,56.5L3140.8,69.5L3131.2,69.5Z"/>
<path class="g" d="M3306.5,113.4L3193.2,59.7"/><path class="ga" d="M3181.5,54.1L3195.3,55.3L3191.2,64Z"/>
<path class="g" d="M2637.5,220.6L2964.8,144.6"/><path class="ga" d="M2977.5,141.6L2965.9,149.3L2963.8,139.9Z"/>
<path class="g" d="M3030.4,205.5L3027.9,167.5"/><path class="ga" d="M3027.1,154.5L3032.7,167.2L3023.1,167.8Z"/>
<path class="g" d="M3090.5,210.8L3294.1,145.9"/><path class="ga" d="M3306.5,142L3295.6,150.5L3292.7,141.4Z"/>
<path class="g" d="M2829.5,208C2841.2,206 2874.9,200.2 2900,196C2925.1,191.8 2953.3,188 2980,183C3006.7,178 3042.5,170.2 3060,166C3077.5,161.8 3080.9,159.3 3085.1,158"/><path class="ga" d="M3097.5,154L3086.6,162.5L3083.7,153.4Z"/>
<path class="g" d="M2949.5,208C2959.6,205.5 2991.6,199.3 3010,193C3028.4,186.7 3047.2,177.2 3060,170C3072.8,162.8 3082.6,153.1 3087.1,149.8"/><path class="ga" d="M3097.5,142L3090,153.6L3084.2,145.9Z"/>
<path class="g" d="M2664.5,318.9L2844.3,251.5"/><path class="ga" d="M2856.5,246.9L2846,256L2842.6,247Z"/>
<path class="g" d="M3007.9,310.5L2944.4,261.4"/><path class="ga" d="M2934.1,253.5L2947.3,257.6L2941.4,265.2Z"/>
<path class="g" d="M2965,310.5L3154.2,247.1"/><path class="ga" d="M3166.5,243L3155.7,251.7L3152.6,242.6Z"/>
<path class="g" d="M3246.7,205.5L3301.6,162.5"/><path class="ga" d="M3311.8,154.5L3304.6,166.3L3298.6,158.7Z"/>
<path class="g" d="M3342.9,205.5L3342.7,167.5"/><path class="ga" d="M3342.6,154.5L3347.5,167.5L3337.9,167.5Z"/>
<path class="g" d="M3292.8,205.5L3186.2,154.5"/><path class="ga" d="M3174.5,148.9L3188.3,150.2L3184.2,158.9Z"/>
<path class="g" d="M3470.5,207.8L3389.6,159"/><path class="ga" d="M3378.5,152.2L3392.1,154.8L3387.1,163.1Z"/>
<path class="g" d="M3575,310.5C3574.7,303.2 3575.8,282.6 3573,267C3570.2,251.4 3566.5,232.2 3558.5,217C3550.5,201.8 3538.8,186.6 3525,175.5C3511.2,164.4 3494.2,156.9 3475.5,150.5C3456.8,144.1 3427,139.7 3413,137C3399,134.3 3395,134.9 3391.4,134.5"/><path class="ga" d="M3378.5,133L3392,129.7L3390.9,139.3Z"/>
<path class="g" d="M3312.1,310.5L3329.2,265.6"/><path class="ga" d="M3333.9,253.5L3333.7,267.4L3324.7,263.9Z"/>
<path class="g" d="M3262.5,419C3257.1,412.3 3241.2,393.8 3230,379C3218.8,364.2 3206.7,348.2 3195,330C3183.3,311.8 3168.7,290.8 3160,270C3151.3,249.2 3146.6,222.1 3143,205C3139.4,187.9 3139.3,173.7 3138.5,167.4"/><path class="ga" d="M3137,154.5L3143.3,166.8L3133.8,168Z"/>
<path class="g" d="M3314,528.5C3320,516.2 3341.9,479.8 3350,455C3358.1,430.2 3360.8,402.5 3362.5,380C3364.2,357.5 3361.6,338.8 3360,320C3358.4,301.2 3354,276.1 3352.8,267.4"/><path class="ga" d="M3351,254.5L3357.5,266.7L3348,268Z"/>
<path class="g" d="M3335,528.5C3343.3,512.1 3369.2,461.4 3385,430C3400.8,398.6 3413.4,367.5 3430,340C3446.6,312.5 3475.3,277.5 3484.4,265"/><path class="ga" d="M3492,254.5L3488.3,267.8L3480.5,262.2Z"/>
<path class="g" d="M3135.7,418.5L3200.7,265.5"/><path class="ga" d="M3205.8,253.5L3205.1,267.3L3196.3,263.6Z"/>
<path class="g" d="M2946.5,416.5L2931.7,370.9"/><path class="ga" d="M2927.7,358.5L2936.3,369.4L2927.2,372.3Z"/>
<path class="g" d="M3038.5,528.5C3038.3,520.4 3039.8,496.4 3037.5,480C3035.2,463.6 3031.2,445 3025,430C3018.8,415 3008,400.2 3000,390C2992,379.8 2980.9,372.3 2977.1,368.8"/><path class="ga" d="M2967.5,360L2980.3,365.3L2973.8,372.3Z"/>
<path class="g" d="M3081.4,637.5L3117.2,479.2"/><path class="ga" d="M3120.1,466.5L3121.9,480.2L3112.5,478.1Z"/>
<path class="g" d="M2730.7,418.5L2769.8,267.1"/><path class="ga" d="M2773,254.5L2774.4,268.3L2765.1,265.9Z"/>
<path class="g" d="M2822.5,738.5C2823.8,725.4 2827.9,686.4 2830,660C2832.1,633.6 2835.8,614.2 2835,580C2834.2,545.8 2829.2,496.7 2825,455C2820.8,413.3 2815.1,361.3 2810,330C2804.9,298.7 2796.8,277.6 2794.2,267.1"/><path class="ga" d="M2791,254.5L2798.8,265.9L2789.5,268.3Z"/>
<path class="g" d="M2930,840.5C2927.5,827.1 2919.6,790.1 2915,760C2910.4,729.9 2905,681.7 2902.5,660C2900,638.3 2904.6,660 2900,630C2895.4,600 2885,525.8 2875,480C2865,434.2 2850.2,390.5 2840,355C2829.8,319.5 2818.1,281.6 2813.7,267"/><path class="ga" d="M2810,254.5L2818.3,265.6L2809.1,268.3Z"/>
<path class="g" d="M3505.5,435C3487.9,430 3434.2,414.2 3400,405C3365.8,395.8 3329,388.5 3300,380C3271,371.5 3252.2,364.5 3226,354C3199.8,343.5 3170.7,327.3 3143,317C3115.3,306.7 3087.2,298.5 3060,292C3032.8,285.5 3006.7,282.8 2980,278C2953.3,273.2 2922.9,267.1 2900,263C2877.1,258.9 2852.3,254.8 2842.8,253.2"/><path class="ga" d="M2830,251L2843.6,248.5L2842,257.9Z"/>
<path class="g" d="M3552.3,418.5L3562.8,371.2"/><path class="ga" d="M3565.7,358.5L3567.5,372.2L3558.2,370.1Z"/>
<path class="g" d="M3640.8,528.5L3582.8,475.3"/><path class="ga" d="M3573.2,466.5L3586,471.7L3579.5,478.8Z"/>
<path class="g" d="M2663.5,528.5L2700,477.1"/><path class="ga" d="M2707.5,466.5L2703.9,479.9L2696,474.3Z"/>
<path class="g" d="M2761.6,528.5L2740,478.4"/><path class="ga" d="M2734.9,466.5L2744.4,476.5L2735.6,480.3Z"/>
<path class="g" d="M2756.9,634.5L2765.2,589.3"/><path class="ga" d="M2767.6,576.5L2769.9,590.2L2760.5,588.4Z"/>
<path class="g" d="M2516.5,637.9L2599.1,583.6"/><path class="ga" d="M2609.9,576.5L2601.7,587.6L2596.4,579.6Z"/>
<path class="g" d="M2612.5,649.5C2619.9,647.4 2635.8,640.8 2657,637C2678.2,633.2 2705.3,628.8 2740,626.5C2774.7,624.2 2821.7,624.2 2865,623.5C2908.3,622.8 2944.2,622.8 3000,622C3055.8,621.2 3144.5,621.3 3200,619C3255.5,616.7 3296.1,612.3 3333,608C3369.9,603.7 3400.9,597.4 3421.5,593C3442.1,588.6 3450.8,583.4 3456.6,581.5"/><path class="ga" d="M3469,577.5L3458.1,586.1L3455.2,577Z"/>
<path class="g" d="M3143.5,738.5C3149.6,725.4 3168.9,694.8 3180,660C3191.1,625.2 3206.7,564.2 3210,530C3213.3,495.8 3205.8,475.8 3200,455C3194.2,434.2 3187.5,417.5 3175,405C3162.5,392.5 3141.3,387 3125,380C3108.7,373 3085.2,366.1 3077.3,363.3"/><path class="ga" d="M3065,359L3078.9,358.8L3075.7,367.8Z"/>
<path class="g" d="M3317.8,637.5L3368.1,585.8"/><path class="ga" d="M3377.2,576.5L3371.5,589.2L3364.7,582.5Z"/>
<path class="g" d="M3338.5,639.5L3465.2,582.3"/><path class="ga" d="M3477,577L3467.1,586.7L3463.2,578Z"/>
<path class="g" d="M3439.5,528.5C3443.9,525.9 3454.2,517.4 3466,513C3477.8,508.6 3495.2,505 3510,502C3524.8,499 3541.9,499.1 3554.5,495C3567.1,490.9 3576.6,485.6 3585.5,477.5C3594.4,469.4 3600.6,456.8 3608,446.5C3615.4,436.2 3622.7,426.6 3630,415.5C3637.3,404.4 3647.8,387.4 3652,380C3656.2,372.6 3654.8,372.6 3655.4,371.1"/><path class="ga" d="M3660,359L3659.9,372.9L3650.9,369.4Z"/>
<path class="g" d="M3545.5,528C3550.7,525.5 3563.9,518.5 3576.5,513C3589.1,507.5 3607.7,502.4 3621,495C3634.3,487.6 3646.9,480.2 3656.5,468.5C3666.1,456.8 3674.1,439.2 3678.5,424.5C3682.9,409.8 3682.2,388.8 3683,380C3683.8,371.2 3683.3,373.3 3683.4,372"/><path class="ga" d="M3684,359L3688.2,372.2L3678.6,371.8Z"/>
<path class="g" d="M3380.3,637.5L3329.3,585.8"/><path class="ga" d="M3320.2,576.5L3332.7,582.4L3325.9,589.1Z"/>
<path class="g" d="M3373.9,738.5L3389.9,697.6"/><path class="ga" d="M3394.6,685.5L3394.3,699.4L3385.4,695.9Z"/>
<path class="g" d="M3470.2,738.5L3499.7,589.3"/><path class="ga" d="M3502.3,576.5L3504.4,590.2L3495,588.3Z"/>
<path class="g" d="M3608,738.5C3598.8,725.4 3566.8,684.9 3553,660C3539.2,635.1 3529.9,600.9 3525.2,589.1"/><path class="ga" d="M3520.5,577L3529.7,587.4L3520.8,590.9Z"/>
<path class="g" d="M3643,738.5L3659.2,697.6"/><path class="ga" d="M3664,685.5L3663.7,699.4L3654.7,695.8Z"/>
<path class="g" d="M3643,637.5C3638.6,633 3623.5,620.2 3616.5,610.5C3609.5,600.8 3603.9,589.8 3601,579.5C3598.1,569.2 3597.9,558.8 3599,548.5C3600.1,538.2 3601.6,527.1 3607.5,517.5C3613.4,507.9 3624.1,499.2 3634.5,491C3644.9,482.8 3661.2,477.4 3670,468.5C3678.8,459.6 3683.8,448.6 3687.5,437.5C3691.2,426.4 3691.6,412.9 3692.5,402C3693.4,391.1 3692.8,377 3692.8,372"/><path class="ga" d="M3693,359L3697.6,372.1L3688,371.9Z"/>
<path class="g" d="M3873,949.5C3867.5,941.2 3851.8,917.8 3840,900C3828.2,882.2 3819.2,862.5 3802.5,842.5C3785.8,822.5 3759.7,797.3 3740,780C3720.3,762.7 3703,752.3 3684.5,738.5C3666,724.7 3643.1,709.8 3629,697C3614.9,684.2 3606.8,671.2 3600,662C3593.2,652.8 3593,650.2 3588,641.5C3583,632.8 3575.1,618.9 3570,610C3564.9,601.1 3559.3,591.8 3557.1,588.2"/><path class="ga" d="M3550.5,577L3561.2,585.8L3553,590.6Z"/>
<path class="g" d="M2549.8,738.5L2563.9,697.8"/><path class="ga" d="M2568.2,685.5L2568.5,699.4L2559.4,696.2Z"/>
<path class="g" d="M2629.1,738.5L2600.2,696.2"/><path class="ga" d="M2592.9,685.5L2604.2,693.5L2596.3,698.9Z"/>
<path class="g" d="M2689.5,751.5C2707.9,747.1 2748.2,733.2 2800,725C2851.8,716.8 2941.7,709.2 3000,702.5C3058.3,695.8 3110.4,690 3150,685C3189.6,680 3223,674.8 3237.6,672.8"/><path class="ga" d="M3250.5,671L3238.3,677.5L3237,668Z"/>
<path class="g" d="M2463.1,840.5L2453.8,799.2"/><path class="ga" d="M2450.9,786.5L2458.5,798.1L2449.1,800.2Z"/>
<path class="g" d="M2485.7,840.5L2516.8,797.1"/><path class="ga" d="M2524.3,786.5L2520.7,799.9L2512.9,794.3Z"/>
<path class="g" d="M2565.2,840.5L2552.6,798.9"/><path class="ga" d="M2548.8,786.5L2557.2,797.5L2548,800.3Z"/>
<path class="g" d="M2589.7,840.5L2620.8,797.1"/><path class="ga" d="M2628.3,786.5L2624.7,799.9L2616.9,794.3Z"/>
<path class="g" d="M2534.6,946.5L2496,898.6"/><path class="ga" d="M2487.9,888.5L2499.8,895.6L2492.3,901.6Z"/>
<path class="g" d="M2560,946.5L2566.9,901.4"/><path class="ga" d="M2568.9,888.5L2571.6,902.1L2562.2,900.6Z"/>
<path class="g" d="M2686,1058.5C2687.5,1052.1 2688.5,1044.8 2695,1020C2701.5,995.2 2715.8,940.8 2725,910C2734.2,879.2 2741.7,853.3 2750,835C2758.3,816.7 2770,806.6 2775,800C2780,793.4 2779.3,796.3 2780.2,795.5"/><path class="ga" d="M2790,787L2783.3,799.1L2777,791.9Z"/>
<path class="g" d="M2816.5,840.5L2816.5,799.5"/><path class="ga" d="M2816.5,786.5L2821.3,799.5L2811.7,799.5Z"/>
<path class="g" d="M2821.6,949.5L2818.7,901.5"/><path class="ga" d="M2817.9,888.5L2823.5,901.2L2813.9,901.8Z"/>
<path class="g" d="M2849.4,1056.5L2899.9,1006.6"/><path class="ga" d="M2909.2,997.5L2903.3,1010L2896.5,1003.2Z"/>
<path class="g" d="M2933.5,949.5L2933.5,901.5"/><path class="ga" d="M2933.5,888.5L2938.3,901.5L2928.7,901.5Z"/>
<path class="g" d="M3096.4,840.5L3113.7,798.5"/><path class="ga" d="M3118.6,786.5L3118.1,800.3L3109.2,796.7Z"/>
<path class="g" d="M3363.4,840.5L3364,799.5"/><path class="ga" d="M3364.1,786.5L3368.8,799.6L3359.2,799.4Z"/>
<path class="g" d="M3465.5,840.5L3465.5,799.5"/><path class="ga" d="M3465.5,786.5L3470.3,799.5L3460.7,799.5Z"/>
<path class="g" d="M3546.2,840.5L3499.7,795.5"/><path class="ga" d="M3490.3,786.5L3503,792.1L3496.3,799Z"/>
<path class="g" d="M3585.7,840.5L3612,797.6"/><path class="ga" d="M3618.8,786.5L3616.1,800.1L3607.9,795.1Z"/>
<path class="g" d="M3423,949.5L3447.7,900.1"/><path class="ga" d="M3453.5,888.5L3452,902.3L3443.4,898Z"/>
<path class="g" d="M3510.3,949.5L3484.2,900"/><path class="ga" d="M3478.2,888.5L3488.5,897.8L3480,902.2Z"/>
<path class="g" d="M3533.6,949.5L3555.2,900.4"/><path class="ga" d="M3560.4,888.5L3559.6,902.3L3550.8,898.5Z"/>
<path class="g" d="M3453.4,1056.5L3429.2,1009.1"/><path class="ga" d="M3423.3,997.5L3433.5,1006.9L3424.9,1011.3Z"/>
<path class="g" d="M3480.6,1056.5L3504.8,1009.1"/><path class="ga" d="M3510.7,997.5L3509.1,1011.3L3500.5,1006.9Z"/>
<path class="g" d="M3318.5,1181.5C3265.4,1177.2 3078.1,1164 3000,1155.5C2921.9,1147 2892.4,1138.4 2850,1130.5C2807.6,1122.6 2763.1,1111.9 2745.7,1108.2"/><path class="ga" d="M2733,1105.5L2746.7,1103.5L2744.7,1112.9Z"/>
<path class="g" d="M3858.5,1272.2L4173.9,1196.2"/><path class="ga" d="M4186.5,1193.2L4175,1200.9L4172.7,1191.6Z"/>
<path class="g" d="M4222.5,1160.5L4222.5,1119.5"/><path class="ga" d="M4222.5,1106.5L4227.3,1119.5L4217.7,1119.5Z"/>
<path class="g" d="M4245.6,1160.5L4288.4,1115.9"/><path class="ga" d="M4297.4,1106.5L4291.9,1119.2L4285,1112.5Z"/>
<path class="g" d="M4222.5,1058.5L4222.5,1010.5"/><path class="ga" d="M4222.5,997.5L4227.3,1010.5L4217.7,1010.5Z"/>
<path class="g" d="M4320.9,1058.5L4323.8,901.5"/><path class="ga" d="M4324.1,888.5L4328.6,901.6L4319,901.4Z"/>
<path class="g" d="M4221.4,949.5L4219.2,901.5"/><path class="ga" d="M4218.6,888.5L4224,901.3L4214.4,901.7Z"/>
<path class="g" d="M4245,949.5L4293.2,898"/><path class="ga" d="M4302,888.5L4296.7,901.3L4289.7,894.7Z"/>
<path class="g" d="M4216.6,840.5L4215,799.5"/><path class="ga" d="M4214.4,786.5L4219.7,799.3L4210.2,799.7Z"/>
<path class="g" d="M4242.6,840.5L4289.6,795.5"/><path class="ga" d="M4298.9,786.5L4292.9,799L4286.2,792Z"/>
<path class="g" d="M4324.4,840.5L4324.2,799.5"/><path class="ga" d="M4324.1,786.5L4329,799.5L4319.4,799.5Z"/>
<path class="g" d="M4207.1,738.5L4196.3,698.1"/><path class="ga" d="M4192.9,685.5L4200.9,696.8L4191.6,699.3Z"/>
<path class="g" d="M4232.5,738.5L4266.4,695.7"/><path class="ga" d="M4274.5,685.5L4270.2,698.7L4262.7,692.7Z"/>
<path class="g" d="M4316.8,738.5L4304.5,697.9"/><path class="ga" d="M4300.7,685.5L4309.1,696.6L4299.9,699.3Z"/>
<path class="g" d="M4178.4,637.5L4161.8,588.8"/><path class="ga" d="M4157.6,576.5L4166.4,587.3L4157.3,590.4Z"/>
<path class="g" d="M4201.5,637.5L4232.6,587.5"/><path class="ga" d="M4239.5,576.5L4236.7,590.1L4228.6,585Z"/>
<path class="g" d="M4284.9,637.5L4267.5,588.7"/><path class="ga" d="M4263.1,576.5L4272,587.1L4262.9,590.4Z"/>
<path class="g" d="M4141.3,528.5L4124.4,478.8"/><path class="ga" d="M4120.2,466.5L4128.9,477.3L4119.8,480.4Z"/>
<path class="g" d="M4169,528.5L4211.3,476.6"/><path class="ga" d="M4219.5,466.5L4215,479.6L4207.5,473.6Z"/>
<path class="g" d="M4251.1,528.5L4244.2,479.4"/><path class="ga" d="M4242.4,466.5L4248.9,478.7L4239.4,480Z"/>
<path class="g" d="M4110.6,418.5L4107.7,371.5"/><path class="ga" d="M4106.9,358.5L4112.5,371.2L4102.9,371.8Z"/>
<path class="g" d="M4078,418.5C4055.7,403.6 3977.3,349.4 3944,329C3910.7,308.6 3899.4,307.1 3878,296C3856.6,284.9 3839.8,275 3815.5,262.5C3791.2,250 3760.2,232.4 3732.5,221C3704.8,209.6 3683.6,201.6 3649,194C3614.4,186.4 3566.5,179.4 3525,175.5C3483.5,171.6 3429,172.2 3400,170.5C3371,168.8 3373,168.3 3351,165C3329,161.7 3295.3,155.6 3268,150.5C3240.7,145.4 3200.7,137.2 3187.3,134.5"/><path class="ga" d="M3174.5,132L3188.2,129.8L3186.3,139.2Z"/>
<path class="g" d="M4209.3,418.5L4145.3,366.7"/><path class="ga" d="M4135.2,358.5L4148.3,362.9L4142.3,370.4Z"/>
<path class="g" d="M4326.5,418.5L4249.7,365.9"/><path class="ga" d="M4239,358.5L4252.4,361.9L4247,369.8Z"/>
<path class="g" d="M4363.2,517.5L4362.3,479.5"/><path class="ga" d="M4362,466.5L4367.1,479.4L4357.5,479.6Z"/>
<path class="g" d="M4502.6,416.5L4476.4,369.8"/><path class="ga" d="M4470,358.5L4480.5,367.5L4472.2,372.2Z"/>
<path class="g" d="M4529,416.5L4548.9,370.4"/><path class="ga" d="M4554.1,358.5L4553.3,372.3L4544.5,368.5Z"/>
<path class="g" d="M4661.5,418.5L4661.5,371.5"/><path class="ga" d="M4661.5,358.5L4666.3,371.5L4656.7,371.5Z"/>
<path class="g" d="M4661.5,525.5L4661.5,479.5"/><path class="ga" d="M4661.5,466.5L4666.3,479.5L4656.7,479.5Z"/>
<path class="g" d="M4069.6,310.5L3995.2,260.7"/><path class="ga" d="M3984.4,253.5L3997.9,256.7L3992.5,264.7Z"/>
<path class="g" d="M4192.2,310.5L4170,265.2"/><path class="ga" d="M4164.3,253.5L4174.3,263.1L4165.7,267.3Z"/>
<path class="g" d="M4355.4,310.5L4416.4,261.6"/><path class="ga" d="M4426.6,253.5L4419.4,265.4L4413.4,257.9Z"/>
<path class="g" d="M4456.5,310.5L4456.5,266.5"/><path class="ga" d="M4456.5,253.5L4461.3,266.5L4451.7,266.5Z"/>
<path class="g" d="M4539.8,310.5L4490.5,262.6"/><path class="ga" d="M4481.2,253.5L4493.9,259.1L4487.2,266Z"/>
<path class="g" d="M4624.5,315.5L4504.1,253.9"/><path class="ga" d="M4492.5,247.9L4506.3,249.6L4501.9,258.1Z"/>
<path class="g" d="M4420.5,209.6L4324.9,156.7"/><path class="ga" d="M4313.5,150.4L4327.2,152.5L4322.6,160.9Z"/>
<path class="g" d="M4116.5,215.1L3965.6,154.6"/><path class="ga" d="M3953.5,149.7L3967.4,150.1L3963.8,159Z"/>
<path class="g" d="M3938.1,205.5L3921.1,166.4"/><path class="ga" d="M3915.9,154.5L3925.5,164.5L3916.7,168.3Z"/>
<path class="g" d="M3714,310.5L3870.5,163.4"/><path class="ga" d="M3880,154.5L3873.8,166.9L3867.2,159.9Z"/>
<path class="g" d="M4241.5,126C4227.9,124.4 4213.9,122.5 4160,116.5C4106.1,110.5 4000,98.1 3918,90C3836,81.9 3751.3,74.3 3668,68C3584.7,61.7 3496.9,57.5 3418,52C3339.1,46.5 3231.7,37.8 3194.5,35"/><path class="ga" d="M3181.5,34L3194.8,30.2L3194.1,39.8Z"/>
<path class="g" d="M3857.5,123C3825.9,118.3 3741.2,104.5 3668,95C3594.8,85.5 3496.9,74.9 3418,66C3339.1,57.1 3231.7,45.5 3194.4,41.4"/><path class="ga" d="M3181.5,40L3194.9,36.6L3193.9,46.2Z"/>
<path class="g" d="M4003,528.5C4005.5,512.1 4014.2,463.1 4018,430C4021.8,396.9 4024.2,358.3 4025.5,330C4026.8,301.7 4026,282.3 4026,260C4026,237.7 4026.2,210.2 4025.5,196C4024.8,181.8 4023.8,181.8 4022,175C4020.2,168.2 4017.7,161 4015,155C4012.3,149 4009.5,143.9 4006,139C4002.5,134.1 3998.5,129.8 3994,125.5C3989.5,121.2 3984.5,116.6 3979,113C3973.5,109.4 3974.2,106.8 3961,104C3947.8,101.2 3924.2,98.7 3900,96C3875.8,93.3 3865.5,92.3 3815.5,88C3765.5,83.7 3669.2,75.5 3600,70C3530.8,64.5 3467.6,60.3 3400,55C3332.4,49.7 3228.7,40.9 3194.5,38.1"/><path class="ga" d="M3181.5,37L3194.9,33.3L3194.1,42.9Z"/>
<path class="g" d="M4067.5,637.5C4067.5,629.2 4068.8,603.6 4067.5,588C4066.2,572.4 4064,557.8 4060,544C4056,530.2 4051.8,518.9 4043.5,505C4035.2,491.1 4021.6,473.4 4010.5,460.5C3999.4,447.6 3989,436.8 3977,427.5C3965,418.2 3954.2,412.4 3938.5,405C3922.8,397.6 3904.2,390.3 3883,383C3861.8,375.7 3833.9,367.3 3811,361C3788.1,354.7 3756.5,347.7 3745.6,345.1"/><path class="ga" d="M3733,342L3746.8,340.4L3744.5,349.7Z"/>
<path class="g" d="M3923,840.5C3928.8,822.9 3949.3,762.6 3958,735C3966.7,707.4 3969.8,699.2 3975,675C3980.2,650.8 3986.6,604 3988.9,589.8"/><path class="ga" d="M3991,577L3993.6,590.6L3984.2,589.1Z"/>
<path class="g" d="M3905,840.5C3903.8,827.1 3900.8,783.6 3898,760C3895.2,736.4 3890.3,720.2 3888.5,699C3886.7,677.8 3887.9,654.7 3887,632.5C3886.1,610.3 3885.5,589.1 3883,566C3880.5,542.9 3877.6,518 3872,494C3866.4,470 3857.8,443.2 3849.5,422C3841.2,400.8 3832.2,381.3 3822,366.5C3811.8,351.7 3803.4,345.4 3788.5,333C3773.6,320.6 3752.2,305.8 3732.5,292C3712.8,278.2 3692.2,262.2 3670,250C3647.8,237.8 3623.7,227.2 3599.5,219C3575.3,210.8 3558.2,207.4 3525,200.5C3491.8,193.6 3436,183.8 3400,177.5C3364,171.2 3344.5,169.5 3309,163C3273.5,156.5 3207.5,142.6 3187.2,138.6"/><path class="ga" d="M3174.5,136L3188.2,133.9L3186.3,143.3Z"/>
<path class="g" d="M3832.2,738.5L3809.1,696.9"/><path class="ga" d="M3802.8,685.5L3813.3,694.5L3804.9,699.2Z"/>
<path class="g" d="M3850.1,738.5L3941.4,266.3"/><path class="ga" d="M3943.9,253.5L3946.1,267.2L3936.7,265.4Z"/>
<path class="g" d="M3765.3,949.5L3830.1,798.4"/><path class="ga" d="M3835.2,786.5L3834.5,800.3L3825.7,796.6Z"/>
<path class="g" d="M3926.5,955C3941.8,945.8 3991.9,920 4018,900C4044.1,880 4066.3,856.7 4083,835C4099.7,813.3 4113,788.3 4118,770C4123,751.7 4116.8,737.2 4113,725C4109.2,712.8 4098,701.6 4095,696.9"/><path class="ga" d="M4088,686L4099.1,694.4L4091,699.5Z"/>
<path class="g" d="M4059.2,738.5L4061.9,698.5"/><path class="ga" d="M4062.8,685.5L4066.7,698.8L4057.1,698.1Z"/>
<path class="g" d="M4012.5,755L3731.6,687.1"/><path class="ga" d="M3719,684L3732.8,682.4L3730.5,691.7Z"/>
<path class="g" d="M3839,1056.5L3868.7,1008.5"/><path class="ga" d="M3875.6,997.5L3872.8,1011.1L3864.7,1006Z"/>
<path class="g" d="M3883,1056.5C3891.3,1050.9 3918,1039.1 3933,1023C3948,1006.9 3962.2,978.8 3973,960C3983.8,941.2 3988,932.5 3998,910C4008,887.5 4025.5,843.5 4033,825C4040.5,806.5 4041.5,803.4 4043.2,799.1"/><path class="ga" d="M4048,787L4047.7,800.9L4038.8,797.3Z"/>
<path class="g" d="M3762.5,1060.5C3755.1,1055.9 3731.8,1045.6 3718,1033C3704.2,1020.4 3690.5,1003.8 3680,985C3669.5,966.2 3661.2,940.8 3655,920C3648.8,899.2 3646.4,880 3643,860C3639.6,840 3636.1,809.9 3634.8,799.9"/><path class="ga" d="M3633,787L3639.5,799.2L3630,800.5Z"/>
<path class="g" d="M3775.6,418.5L3722.7,367.5"/><path class="ga" d="M3713.4,358.5L3726.1,364.1L3719.4,371Z"/>
<path class="g" d="M3789.9,528.5L3796,479.4"/><path class="ga" d="M3797.6,466.5L3800.7,480L3791.2,478.8Z"/>
<path class="g" d="M3788.9,637.5L3787.8,589.5"/><path class="ga" d="M3787.6,576.5L3792.6,589.4L3783,589.6Z"/>
<g><rect class="n" x="85.5" y="8.5" width="93" height="48" fill="#ffffff"/><text class="s" x="129.9" y="36.3">molecular_function</text></g>
<g><rect class="n" x="93.5" y="106.5" width="77" height="48" fill="#ffffff"/><text class="s" x="129.9" y="134.3">catalytic activity</text></g>
<g><rect class="n" x="90.5" y="205.5" width="83" height="48" fill="#ffffff"/><text class="s" x="129.9" y="233.3">hydrolase activity</text></g>
<g><rect class="n" x="90.5" y="310.5" width="84" height="48" fill="#ffffff"/><text class="s" x="130.4" y="326.3">hydrolase activity,</text><text class="s" x="130.4" y="338.3">acting on ester</text><text class="s" x="130.4" y="350.3">bonds</text></g>
<g><rect class="n" x="84.5" y="418.5" width="96" height="48" fill="#ffffff"/><text class="s" x="130.4" y="441.3">thiolester hydrolase</text><text class="s" x="130.4" y="453.3">activity</text></g>
<g><rect class="n" x="8.5" y="525.5" width="114" height="53" fill="#d3d3d3"/><text class="b" x="64.5" y="540.4">palmitoyl-(protein)</text><text class="b" x="64.5" y="556.4">hydrolase activity</text><text class="b" x="64.5" y="572.4">(Mouse, Human)</text></g>
<g><rect class="n" x="146.5" y="528.5" width="72" height="48" fill="#ffffff"/><text class="s" x="180.4" y="550.3">CoA hydrolase</text><text class="s" x="180.4" y="562.3">activity</text></g>
<g><rect class="n" x="130.5" y="637.5" width="104" height="48" fill="#ffffff"/><text class="s" x="180.4" y="660.3">acyl-CoA thioesterase</text><text class="s" x="180.4" y="672.3">activity</text></g>
<g><rect class="n" x="128.5" y="736.5" width="109" height="53" fill="#ff6347"/><text class="b" x="182" y="750.4">palmitoyl-CoA</text><text class="b" x="182" y="766.4">hydrolase activity</text><text class="b" x="182" y="782.4">(Human)</text></g>
<g><rect class="n" x="854.5" y="8.5" width="94" height="48" fill="#ffffff"/><text class="s" x="899.4" y="36.3">cellular_component</text></g>
<g><rect class="n" x="697.5" y="106.5" width="72" height="48" fill="#ffffff"/><text class="s" x="731.4" y="134.3">cell</text></g>
<g><rect class="n" x="902.5" y="106.5" width="72" height="48" fill="#ffd000"/><text class="b" x="937.5" y="125.9">synapse</text><text class="b" x="937.5" y="141.9">(Rat)</text></g>
<g><rect class="n" x="998.5" y="104.5" width="78" height="53" fill="#ff6347"/><text class="b" x="1036.5" y="118.4">extracellular</text><text class="b" x="1036.5" y="134.4">region</text><text class="b" x="1036.5" y="150.4">(Human)</text></g>
<g><rect class="n" x="564.5" y="205.5" width="72" height="48" fill="#ffffff"/><text class="s" x="598.4" y="233.3">cell part</text></g>
<g><rect class="n" x="1012.5" y="205.5" width="72" height="48" fill="#ffffff"/><text class="s" x="1046.4" y="228.3">extracellular</text><text class="s" x="1046.4" y="240.3">region part</text></g>
<g><rect class="n" x="310.5" y="310.5" width="72" height="48" fill="#ffffff"/><text class="s" x="344.4" y="338.3">membrane</text></g>
<g><rect class="n" x="457.5" y="310.5" width="83" height="48" fill="#d3d3d3"/><text class="b" x="498" y="329.9">cell soma</text><text class="b" x="498" y="345.9">(Mouse, Rat)</text></g>
<g><rect class="n" x="564.5" y="310.5" width="72" height="48" fill="#ffffff"/><text class="s" x="598.4" y="338.3">intracellular</text></g>
<g><rect class="n" x="660.5" y="310.5" width="72" height="48" fill="#ffffff"/><text class="s" x="694.4" y="338.3">cell fraction</text></g>
<g><rect class="n" x="756.5" y="310.5" width="72" height="48" fill="#ffffff"/><text class="s" x="790.4" y="338.3">cell projection</text></g>
<g><rect class="n" x="1009.5" y="308.5" width="77" height="53" fill="#add8e6"/><text class="b" x="1047" y="322.4">extracellular</text><text class="b" x="1047" y="338.4">space</text><text class="b" x="1047" y="354.4">(Mouse)</text></g>
<g><rect class="n" x="236.5" y="418.5" width="74" height="48" fill="#ffffff"/><text class="s" x="271.4" y="446.3">membrane part</text></g>
<g><rect class="n" x="334.5" y="418.5" width="91" height="48" fill="#ffffff"/><text class="s" x="377.9" y="446.3">plasma membrane</text></g>
<g><rect class="n" x="500.5" y="418.5" width="72" height="48" fill="#ffffff"/><text class="s" x="534.4" y="441.3">intracellular</text><text class="s" x="534.4" y="453.3">part</text></g>
<g><rect class="n" x="596.5" y="418.5" width="117" height="48" fill="#ffd000"/><text class="b" x="654" y="437.9">membrane fraction</text><text class="b" x="654" y="453.9">(Rat)</text></g>
<g><rect class="n" x="737.5" y="418.5" width="109" height="48" fill="#ffd000"/><text class="b" x="791" y="437.9">neuron projection</text><text class="b" x="791" y="453.9">(Rat)</text></g>
<g><rect class="n" x="908.5" y="418.5" width="72" height="48" fill="#ffffff"/><text class="s" x="942.4" y="446.3">organelle</text></g>
<g><rect class="n" x="298.5" y="528.5" width="91" height="48" fill="#ffffff"/><text class="s" x="341.9" y="550.3">plasma membrane</text><text class="s" x="341.9" y="562.3">part</text></g>
<g><rect class="n" x="516.5" y="528.5" width="72" height="48" fill="#ffffff"/><text class="s" x="550.4" y="556.3">cytoplasm</text></g>
<g><rect class="n" x="612.5" y="528.5" width="72" height="48" fill="#add8e6"/><text class="b" x="647.5" y="547.9">dendrite</text><text class="b" x="647.5" y="563.9">(Mouse)</text></g>
<g><rect class="n" x="708.5" y="528.5" width="104" height="48" fill="#d3d3d3"/><text class="b" x="759.5" y="547.9">axon</text><text class="b" x="759.5" y="563.9">(Mouse, Human)</text></g>
<g><rect class="n" x="836.5" y="528.5" width="85" height="48" fill="#ffffff"/><text class="s" x="876.9" y="550.3">membrane-bound</text><text class="s" x="876.9" y="562.3">organelle</text></g>
<g><rect class="n" x="945.5" y="528.5" width="72" height="48" fill="#ffffff"/><text class="s" x="979.4" y="550.3">intracellular</text><text class="s" x="979.4" y="562.3">organelle</text></g>
<g><rect class="n" x="308.5" y="637.5" width="72" height="48" fill="#ff6347"/><text class="b" x="343.5" y="656.9">lipid raft</text><text class="b" x="343.5" y="672.9">(Human)</text></g>
<g><rect class="n" x="592.5" y="637.5" width="72" height="48" fill="#ffffff"/><text class="s" x="626.4" y="660.3">cytoplasmic</text><text class="s" x="626.4" y="672.3">part</text></g>
<g><rect class="n" x="802.5" y="637.5" width="86" height="48" fill="#ffffff"/><text class="s" x="843.4" y="653.3">intracellular</text><text class="s" x="843.4" y="665.3">membrane-bound</text><text class="s" x="843.4" y="677.3">organelle</text></g>
<g><rect class="n" x="1018.5" y="637.5" width="72" height="48" fill="#ffffff"/><text class="s" x="1052.4" y="665.3">vesicle</text></g>
<g><rect class="n" x="577.5" y="738.5" width="101" height="48" fill="#ff6347"/><text class="b" x="627" y="757.9">Golgi apparatus</text><text class="b" x="627" y="773.9">(Human)</text></g>
<g><rect class="n" x="702.5" y="738.5" width="72" height="48" fill="#ffffff"/><text class="s" x="736.4" y="766.3">vacuole</text></g>
<g><rect class="n" x="849.5" y="738.5" width="72" height="48" fill="#ff6347"/><text class="b" x="884.5" y="757.9">nucleus</text><text class="b" x="884.5" y="773.9">(Human)</text></g>
<g><rect class="n" x="945.5" y="738.5" width="72" height="48" fill="#ffffff"/><text class="s" x="979.4" y="761.3">cytoplasmic</text><text class="s" x="979.4" y="773.3">vesicle</text></g>
<g><rect class="n" x="1041.5" y="738.5" width="85" height="48" fill="#ffffff"/><text class="s" x="1081.9" y="761.3">membrane-bound</text><text class="s" x="1081.9" y="773.3">vesicle</text></g>
<g><rect class="n" x="702.5" y="840.5" width="72" height="48" fill="#ffffff"/><text class="s" x="736.4" y="868.3">lytic vacuole</text></g>
<g><rect class="n" x="938.5" y="840.5" width="86" height="48" fill="#ffffff"/><text class="s" x="979.4" y="856.3">cytoplasmic</text><text class="s" x="979.4" y="868.3">membrane-bound</text><text class="s" x="979.4" y="880.3">vesicle</text></g>
<g><rect class="n" x="672.5" y="949.5" width="133" height="48" fill="#d3d3d3"/><text class="b" x="738" y="968.9">lysosome</text><text class="b" x="738" y="984.9">(Mouse, Human, Rat)</text></g>
<g><rect class="n" x="945.5" y="949.5" width="72" height="48" fill="#ffffff"/><text class="s" x="979.4" y="977.3">coated vesicle</text></g>
<g><rect class="n" x="945.5" y="1058.5" width="72" height="48" fill="#ffffff"/><text class="s" x="979.4" y="1081.3">clathrin-coated</text><text class="s" x="979.4" y="1093.3">vesicle</text></g>
<g><rect class="n" x="930.5" y="1160.5" width="102" height="48" fill="#d3d3d3"/><text class="b" x="980.5" y="1179.9">synaptic vesicle</text><text class="b" x="980.5" y="1195.9">(Human, Rat)</text></g>
<g><rect class="n" x="1228.5" y="106.5" width="72" height="48" fill="#ffffff"/><text class="s" x="1262.4" y="134.3">localization</text></g>
<g><rect class="n" x="2016.5" y="106.5" width="88" height="48" fill="#ffffff"/><text class="s" x="2058.4" y="134.3">metabolic process</text></g>
<g><rect class="n" x="1145.5" y="205.5" width="75" height="48" fill="#ffffff"/><text class="s" x="1180.9" y="228.3">macromolecule</text><text class="s" x="1180.9" y="240.3">localization</text></g>
<g><rect class="n" x="1796.5" y="205.5" width="88" height="48" fill="#ffffff"/><text class="s" x="1838.4" y="228.3">macromolecule</text><text class="s" x="1838.4" y="240.3">metabolic process</text></g>
<g><rect class="n" x="1908.5" y="205.5" width="85" height="48" fill="#ffffff"/><text class="s" x="1948.9" y="228.3">primary metabolic</text><text class="s" x="1948.9" y="240.3">process</text></g>
<g><rect class="n" x="2017.5" y="205.5" width="85" height="48" fill="#ffffff"/><text class="s" x="2057.9" y="233.3">catabolic process</text></g>
<g><rect class="n" x="2181.5" y="205.5" width="85" height="48" fill="#ffffff"/><text class="s" x="2221.9" y="228.3">cellular metabolic</text><text class="s" x="2221.9" y="240.3">process</text></g>
<g><rect class="n" x="1122.5" y="310.5" width="91" height="48" fill="#ffffff"/><text class="s" x="1165.9" y="338.3">protein localization</text></g>
<g><rect class="n" x="1240.5" y="310.5" width="72" height="48" fill="#ffffff"/><text class="s" x="1274.4" y="333.3">establishment</text><text class="s" x="1274.4" y="345.3">of localization</text></g>
<g><rect class="n" x="1338.5" y="310.5" width="91" height="48" fill="#ffffff"/><text class="s" x="1381.9" y="338.3">cellular localization</text></g>
<g><rect class="n" x="1453.5" y="310.5" width="109" height="48" fill="#ffffff"/><text class="s" x="1505.9" y="333.3">cellular macromolecule</text><text class="s" x="1505.9" y="345.3">metabolic process</text></g>
<g><rect class="n" x="1586.5" y="310.5" width="83" height="48" fill="#ffffff"/><text class="s" x="1625.9" y="333.3">protein metabolic</text><text class="s" x="1625.9" y="345.3">process</text></g>
<g><rect class="n" x="1693.5" y="310.5" width="72" height="48" fill="#ffffff"/><text class="s" x="1727.4" y="333.3">lipid metabolic</text><text class="s" x="1727.4" y="345.3">process</text></g>
<g><rect class="n" x="1840.5" y="310.5" width="101" height="48" fill="#ffffff"/><text class="s" x="1888.9" y="333.3">biopolymer metabolic</text><text class="s" x="1888.9" y="345.3">process</text></g>
<g><rect class="n" x="1965.5" y="310.5" width="85" height="48" fill="#ffffff"/><text class="s" x="2005.9" y="333.3">macromolecule</text><text class="s" x="2005.9" y="345.3">catabolic process</text></g>
<g><rect class="n" x="2074.5" y="302.5" width="88" height="65" fill="#ffffff"/><text class="s" x="2116.4" y="314.3">nucleobase,</text><text class="s" x="2116.4" y="326.3">nucleoside,</text><text class="s" x="2116.4" y="338.3">nucleotide and</text><text class="s" x="2116.4" y="350.3">nucleic acid</text><text class="s" x="2116.4" y="362.3">metabolic process</text></g>
<g><rect class="n" x="2186.5" y="310.5" width="80" height="48" fill="#ffffff"/><text class="s" x="2224.4" y="333.3">cellular catabolic</text><text class="s" x="2224.4" y="345.3">process</text></g>
<g><rect class="n" x="2290.5" y="308.5" width="115" height="53" fill="#ff6347"/><text class="b" x="2347" y="322.4">cofactor metabolic</text><text class="b" x="2347" y="338.4">process</text><text class="b" x="2347" y="354.4">(Human)</text></g>
<g><rect class="n" x="1113.5" y="418.5" width="101" height="48" fill="#ffffff"/><text class="s" x="1161.9" y="441.3">establishment</text><text class="s" x="1161.9" y="453.3">of protein localization</text></g>
<g><rect class="n" x="1238.5" y="418.5" width="72" height="48" fill="#ffffff"/><text class="s" x="1272.4" y="446.3">transport</text></g>
<g><rect class="n" x="1334.5" y="418.5" width="72" height="48" fill="#ffffff"/><text class="s" x="1368.4" y="446.3">secretion</text></g>
<g><rect class="n" x="1430.5" y="418.5" width="72" height="48" fill="#ffffff"/><text class="s" x="1464.4" y="434.3">establishment</text><text class="s" x="1464.4" y="446.3">of cellular</text><text class="s" x="1464.4" y="458.3">localization</text></g>
<g><rect class="n" x="1526.5" y="418.5" width="88" height="48" fill="#ffffff"/><text class="s" x="1568.4" y="441.3">cellular protein</text><text class="s" x="1568.4" y="453.3">metabolic process</text></g>
<g><rect class="n" x="1689.5" y="416.5" width="88" height="53" fill="#ff6347"/><text class="b" x="1732.5" y="430.4">lipid catabolic</text><text class="b" x="1732.5" y="446.4">process</text><text class="b" x="1732.5" y="462.4">(Human)</text></g>
<g><rect class="n" x="1801.5" y="418.5" width="99" height="48" fill="#ffffff"/><text class="s" x="1848.9" y="441.3">biopolymer catabolic</text><text class="s" x="1848.9" y="453.3">process</text></g>
<g><rect class="n" x="1924.5" y="418.5" width="74" height="48" fill="#ffffff"/><text class="s" x="1959.4" y="441.3">DNA metabolic</text><text class="s" x="1959.4" y="453.3">process</text></g>
<g><rect class="n" x="2073.5" y="416.5" width="144" height="53" fill="#add8e6"/><text class="b" x="2144.5" y="430.4">cellular macromolecule</text><text class="b" x="2144.5" y="446.4">catabolic process</text><text class="b" x="2144.5" y="462.4">(Mouse)</text></g>
<g><rect class="n" x="2241.5" y="416.5" width="80" height="53" fill="#ffffff"/><text class="s" x="2279.4" y="428.3">generation of</text><text class="s" x="2279.4" y="440.3">a signal involved</text><text class="s" x="2279.4" y="452.3">in cell-cell</text><text class="s" x="2279.4" y="464.3">signaling</text></g>
<g><rect class="n" x="2345.5" y="418.5" width="93" height="48" fill="#ffffff"/><text class="s" x="2389.9" y="446.3">sensory perception</text></g>
<g><rect class="n" x="1092.5" y="528.5" width="104" height="48" fill="#ff6347"/><text class="b" x="1143.5" y="547.9">protein transport</text><text class="b" x="1143.5" y="563.9">(Human)</text></g>
<g><rect class="n" x="1220.5" y="528.5" width="109" height="48" fill="#ff6347"/><text class="b" x="1274" y="547.9">cofactor transport</text><text class="b" x="1274" y="563.9">(Human)</text></g>
<g><rect class="n" x="1404.5" y="528.5" width="72" height="48" fill="#ffffff"/><text class="s" x="1438.4" y="550.3">secretion by</text><text class="s" x="1438.4" y="562.3">cell</text></g>
<g><rect class="n" x="1500.5" y="528.5" width="82" height="48" fill="#ffffff"/><text class="s" x="1539.4" y="550.3">vesicle-mediated</text><text class="s" x="1539.4" y="562.3">transport</text></g>
<g><rect class="n" x="1657.5" y="528.5" width="88" height="48" fill="#ffffff"/><text class="s" x="1699.4" y="550.3">lipoprotein</text><text class="s" x="1699.4" y="562.3">metabolic process</text></g>
<g><rect class="n" x="1820.5" y="528.5" width="80" height="48" fill="#ffffff"/><text class="s" x="1858.4" y="550.3">protein catabolic</text><text class="s" x="1858.4" y="562.3">process</text></g>
<g><rect class="n" x="1956.5" y="528.5" width="72" height="48" fill="#ffffff"/><text class="s" x="1990.4" y="550.3">DNA catabolic</text><text class="s" x="1990.4" y="562.3">process</text></g>
<g><rect class="n" x="2254.5" y="528.5" width="94" height="48" fill="#ffffff"/><text class="s" x="2299.4" y="550.3">sensory perception</text><text class="s" x="2299.4" y="562.3">of light stimulus</text></g>
<g><rect class="n" x="1396.5" y="637.5" width="88" height="48" fill="#ffffff"/><text class="s" x="1438.4" y="665.3">secretory pathway</text></g>
<g><rect class="n" x="1658.5" y="637.5" width="86" height="48" fill="#ffffff"/><text class="s" x="1699.4" y="660.3">lipoprotein</text><text class="s" x="1699.4" y="672.3">catabolic process</text></g>
<g><rect class="n" x="1805.5" y="634.5" width="109" height="53" fill="#add8e6"/><text class="b" x="1859" y="649.4">cellular protein</text><text class="b" x="1859" y="665.4">catabolic process</text><text class="b" x="1859" y="681.4">(Mouse)</text></g>
<g><rect class="n" x="2209.5" y="637.5" width="107" height="48" fill="#add8e6"/><text class="b" x="2262" y="656.9">visual perception</text><text class="b" x="2262" y="672.9">(Mouse)</text></g>
<g><rect class="n" x="2340.5" y="637.5" width="80" height="48" fill="#ffffff"/><text class="s" x="2378.4" y="653.3">regulation of</text><text class="s" x="2378.4" y="665.3">neurotransmitter</text><text class="s" x="2378.4" y="677.3">levels</text></g>
<g><rect class="n" x="1409.5" y="738.5" width="93" height="48" fill="#ffffff"/><text class="s" x="1453.9" y="761.3">regulated secretory</text><text class="s" x="1453.9" y="773.3">pathway</text></g>
<g><rect class="n" x="1626.5" y="738.5" width="150" height="48" fill="#d3d3d3"/><text class="b" x="1700.5" y="757.9">protein depalmitoylation</text><text class="b" x="1700.5" y="773.9">(Mouse, Human)</text></g>
<g><rect class="n" x="2270.5" y="736.5" width="115" height="53" fill="#ff6347"/><text class="b" x="2327" y="750.4">receptor-mediated</text><text class="b" x="2327" y="766.4">endocytosis</text><text class="b" x="2327" y="782.4">(Human)</text></g>
<g><rect class="n" x="2409.5" y="738.5" width="72" height="48" fill="#ff6347"/><text class="b" x="2444.5" y="757.9">pinocytosis</text><text class="b" x="2444.5" y="773.9">(Human)</text></g>
<g><rect class="n" x="1812.5" y="837.5" width="104" height="53" fill="#add8e6"/><text class="b" x="1863.5" y="852.4">neurotransmitter</text><text class="b" x="1863.5" y="868.4">secretion</text><text class="b" x="1863.5" y="884.4">(Mouse)</text></g>
<g><rect class="n" x="2320.5" y="840.5" width="88" height="48" fill="#ffffff"/><text class="s" x="2362.4" y="856.3">regulation of</text><text class="s" x="2362.4" y="868.3">receptor-mediated</text><text class="s" x="2362.4" y="880.3">endocytosis</text></g>
<g><rect class="n" x="2329.5" y="938.5" width="131" height="70" fill="#ff6347"/><text class="b" x="2394" y="952.9">positive regulation</text><text class="b" x="2394" y="968.9">of receptor-mediated</text><text class="b" x="2394" y="984.9">endocytosis</text><text class="b" x="2394" y="1000.9">(Human)</text></g>
<g><rect class="n" x="3090.5" y="8.5" width="91" height="48" fill="#ffffff"/><text class="s" x="3133.9" y="36.3">biological_process</text></g>
<g><rect class="n" x="2977.5" y="106.5" width="96" height="48" fill="#ffffff"/><text class="s" x="3023.4" y="129.3">multicellular</text><text class="s" x="3023.4" y="141.3">organismal process</text></g>
<g><rect class="n" x="3097.5" y="106.5" width="77" height="48" fill="#ffffff"/><text class="s" x="3133.9" y="134.3">cellular process</text></g>
<g><rect class="n" x="3306.5" y="106.5" width="72" height="48" fill="#ffffff"/><text class="s" x="3340.4" y="129.3">developmental</text><text class="s" x="3340.4" y="141.3">process</text></g>
<g><rect class="n" x="2560.5" y="205.5" width="77" height="48" fill="#ffffff"/><text class="s" x="2596.9" y="233.3">system process</text></g>
<g><rect class="n" x="2738.5" y="205.5" width="91" height="48" fill="#ffffff"/><text class="s" x="2781.9" y="221.3">cellular component</text><text class="s" x="2781.9" y="233.3">organization</text><text class="s" x="2781.9" y="245.3">and biogenesis</text></g>
<g><rect class="n" x="2856.5" y="205.5" width="93" height="48" fill="#ffffff"/><text class="s" x="2900.9" y="233.3">cell communication</text></g>
<g><rect class="n" x="2973.5" y="205.5" width="117" height="48" fill="#ffffff"/><text class="s" x="3029.9" y="228.3">multicellular</text><text class="s" x="3029.9" y="240.3">organismal development</text></g>
<g><rect class="n" x="3166.5" y="205.5" width="99" height="48" fill="#ffffff"/><text class="s" x="3213.9" y="228.3">anatomical structure</text><text class="s" x="3213.9" y="240.3">development</text></g>
<g><rect class="n" x="3289.5" y="205.5" width="107" height="48" fill="#ffffff"/><text class="s" x="3340.9" y="228.3">cellular developmental</text><text class="s" x="3340.9" y="240.3">process</text></g>
<g><rect class="n" x="3470.5" y="205.5" width="72" height="48" fill="#ffffff"/><text class="s" x="3504.4" y="233.3">death</text></g>
<g><rect class="n" x="2480.5" y="310.5" width="77" height="48" fill="#ffffff"/><text class="s" x="2516.9" y="333.3">neurological</text><text class="s" x="2516.9" y="345.3">system process</text></g>
<g><rect class="n" x="2581.5" y="310.5" width="83" height="48" fill="#ffffff"/><text class="s" x="2620.9" y="338.3">cell-cell signaling</text></g>
<g><rect class="n" x="2870.5" y="310.5" width="99" height="48" fill="#ffffff"/><text class="s" x="2917.9" y="338.3">system development</text></g>
<g><rect class="n" x="2993.5" y="310.5" width="91" height="48" fill="#ffffff"/><text class="s" x="3036.9" y="338.3">signal transduction</text></g>
<g><rect class="n" x="3260.5" y="310.5" width="85" height="48" fill="#ffffff"/><text class="s" x="3300.9" y="338.3">cell differentiation</text></g>
<g><rect class="n" x="3521.5" y="310.5" width="99" height="48" fill="#ffffff"/><text class="s" x="3568.9" y="333.3">anatomical structure</text><text class="s" x="3568.9" y="345.3">morphogenesis</text></g>
<g><rect class="n" x="3644.5" y="310.5" width="88" height="48" fill="#ffffff"/><text class="s" x="3686.4" y="333.3">regulation of</text><text class="s" x="3686.4" y="345.3">biological process</text></g>
<g><rect class="n" x="2462.5" y="418.5" width="80" height="48" fill="#ffffff"/><text class="s" x="2500.4" y="441.3">transmission</text><text class="s" x="2500.4" y="453.3">of nerve impulse</text></g>
<g><rect class="n" x="2668.5" y="418.5" width="112" height="48" fill="#ffffff"/><text class="s" x="2722.4" y="441.3">membrane organization</text><text class="s" x="2722.4" y="453.3">and biogenesis</text></g>
<g><rect class="n" x="2905.5" y="416.5" width="99" height="53" fill="#ff6347"/><text class="b" x="2954" y="430.4">nervous system</text><text class="b" x="2954" y="446.4">development</text><text class="b" x="2954" y="462.4">(Human)</text></g>
<g><rect class="n" x="3078.5" y="418.5" width="94" height="48" fill="#ffffff"/><text class="s" x="3123.4" y="446.3">organ development</text></g>
<g><rect class="n" x="3246.5" y="418.5" width="83" height="48" fill="#ffffff"/><text class="s" x="3285.9" y="446.3">cell development</text></g>
<g><rect class="n" x="3505.5" y="418.5" width="83" height="48" fill="#ffffff"/><text class="s" x="3544.9" y="441.3">cellular structure</text><text class="s" x="3544.9" y="453.3">morphogenesis</text></g>
<g><rect class="n" x="2412.5" y="528.5" width="104" height="48" fill="#ffffff"/><text class="s" x="2462.4" y="556.3">synaptic transmission</text></g>
<g><rect class="n" x="2590.5" y="528.5" width="112" height="48" fill="#ffffff"/><text class="s" x="2644.4" y="556.3">membrane invagination</text></g>
<g><rect class="n" x="2726.5" y="528.5" width="91" height="48" fill="#ffffff"/><text class="s" x="2769.9" y="544.3">plasma membrane</text><text class="s" x="2769.9" y="556.3">organization</text><text class="s" x="2769.9" y="568.3">and biogenesis</text></g>
<g><rect class="n" x="2989.5" y="528.5" width="99" height="48" fill="#ffffff"/><text class="s" x="3036.9" y="550.3">central nervous</text><text class="s" x="3036.9" y="562.3">system development</text></g>
<g><rect class="n" x="3260.5" y="528.5" width="72" height="48" fill="#ffffff"/><text class="s" x="3294.4" y="556.3">cell death</text></g>
<g><rect class="n" x="3356.5" y="528.5" width="88" height="48" fill="#ffffff"/><text class="s" x="3398.4" y="544.3">positive regulation</text><text class="s" x="3398.4" y="556.3">of biological</text><text class="s" x="3398.4" y="568.3">process</text></g>
<g><rect class="n" x="3468.5" y="528.5" width="77" height="48" fill="#ffffff"/><text class="s" x="3504.9" y="550.3">regulation of</text><text class="s" x="3504.9" y="562.3">cellular process</text></g>
<g><rect class="n" x="3620.5" y="528.5" width="93" height="48" fill="#ffffff"/><text class="s" x="3664.9" y="556.3">cell morphogenesis</text></g>
<g><rect class="n" x="2444.5" y="637.5" width="72" height="48" fill="#ffffff"/><text class="s" x="2478.4" y="665.3">endocytosis</text></g>
<g><rect class="n" x="2540.5" y="637.5" width="72" height="48" fill="#ffffff"/><text class="s" x="2574.4" y="660.3">regulation of</text><text class="s" x="2574.4" y="672.3">transport</text></g>
<g><rect class="n" x="2686.5" y="634.5" width="131" height="53" fill="#ff6347"/><text class="b" x="2751" y="649.4">lipid raft organization</text><text class="b" x="2751" y="665.4">and biogenesis</text><text class="b" x="2751" y="681.4">(Human)</text></g>
<g><rect class="n" x="3017.5" y="637.5" width="117" height="48" fill="#ff6347"/><text class="b" x="3075" y="656.9">brain development</text><text class="b" x="3075" y="672.9">(Human)</text></g>
<g><rect class="n" x="3250.5" y="637.5" width="88" height="48" fill="#ffffff"/><text class="s" x="3292.4" y="653.3">positive regulation</text><text class="s" x="3292.4" y="665.3">of cellular</text><text class="s" x="3292.4" y="677.3">process</text></g>
<g><rect class="n" x="3362.5" y="637.5" width="83" height="48" fill="#ffffff"/><text class="s" x="3401.9" y="660.3">programmed cell</text><text class="s" x="3401.9" y="672.3">death</text></g>
<g><rect class="n" x="3628.5" y="637.5" width="90" height="48" fill="#ffffff"/><text class="s" x="3671.4" y="653.3">negative regulation</text><text class="s" x="3671.4" y="665.3">of biological</text><text class="s" x="3671.4" y="677.3">process</text></g>
<g><rect class="n" x="2505.5" y="738.5" width="72" height="48" fill="#ffffff"/><text class="s" x="2539.4" y="761.3">regulation of</text><text class="s" x="2539.4" y="773.3">endocytosis</text></g>
<g><rect class="n" x="2601.5" y="738.5" width="88" height="48" fill="#ffffff"/><text class="s" x="2643.4" y="761.3">positive regulation</text><text class="s" x="2643.4" y="773.3">of transport</text></g>
<g><rect class="n" x="2764.5" y="738.5" width="104" height="48" fill="#ffffff"/><text class="s" x="2814.4" y="761.3">organelle organization</text><text class="s" x="2814.4" y="773.3">and biogenesis</text></g>
<g><rect class="n" x="3084.5" y="738.5" width="88" height="48" fill="#ffffff"/><text class="s" x="3126.4" y="761.3">intracellular</text><text class="s" x="3126.4" y="773.3">signaling cascade</text></g>
<g><rect class="n" x="3328.5" y="738.5" width="72" height="48" fill="#ffffff"/><text class="s" x="3362.4" y="766.3">apoptosis</text></g>
<g><rect class="n" x="3424.5" y="738.5" width="82" height="48" fill="#ffffff"/><text class="s" x="3463.4" y="754.3">regulation of</text><text class="s" x="3463.4" y="766.3">programmed cell</text><text class="s" x="3463.4" y="778.3">death</text></g>
<g><rect class="n" x="3588.5" y="738.5" width="90" height="48" fill="#ffffff"/><text class="s" x="3631.4" y="754.3">negative regulation</text><text class="s" x="3631.4" y="766.3">of cellular</text><text class="s" x="3631.4" y="778.3">process</text></g>
<g><rect class="n" x="2432.5" y="840.5" width="72" height="48" fill="#ffffff"/><text class="s" x="2466.4" y="862.3">regulation of</text><text class="s" x="2466.4" y="874.3">pinocytosis</text></g>
<g><rect class="n" x="2528.5" y="840.5" width="88" height="48" fill="#ffffff"/><text class="s" x="2570.4" y="862.3">positive regulation</text><text class="s" x="2570.4" y="874.3">of endocytosis</text></g>
<g><rect class="n" x="2768.5" y="840.5" width="96" height="48" fill="#ffffff"/><text class="s" x="2814.4" y="862.3">nuclear organization</text><text class="s" x="2814.4" y="874.3">and biogenesis</text></g>
<g><rect class="n" x="2888.5" y="840.5" width="90" height="48" fill="#ffffff"/><text class="s" x="2931.4" y="862.3">cellular component</text><text class="s" x="2931.4" y="874.3">disassembly</text></g>
<g><rect class="n" x="3042.5" y="840.5" width="88" height="48" fill="#ffffff"/><text class="s" x="3084.4" y="868.3">apoptotic program</text></g>
<g><rect class="n" x="3320.5" y="840.5" width="85" height="48" fill="#ffffff"/><text class="s" x="3360.9" y="868.3">neuron apoptosis</text></g>
<g><rect class="n" x="3429.5" y="840.5" width="72" height="48" fill="#ffffff"/><text class="s" x="3463.4" y="862.3">regulation of</text><text class="s" x="3463.4" y="874.3">apoptosis</text></g>
<g><rect class="n" x="3525.5" y="840.5" width="91" height="48" fill="#ffffff"/><text class="s" x="3568.9" y="856.3">negative regulation</text><text class="s" x="3568.9" y="868.3">of programmed</text><text class="s" x="3568.9" y="880.3">cell death</text></g>
<g><rect class="n" x="2498.5" y="946.5" width="115" height="53" fill="#ff6347"/><text class="b" x="2555" y="961.4">positive regulation</text><text class="b" x="2555" y="977.4">of pinocytosis</text><text class="b" x="2555" y="993.4">(Human)</text></g>
<g><rect class="n" x="2781.5" y="949.5" width="83" height="48" fill="#ffffff"/><text class="s" x="2820.9" y="972.3">apoptotic nuclear</text><text class="s" x="2820.9" y="984.3">changes</text></g>
<g><rect class="n" x="2893.5" y="949.5" width="80" height="48" fill="#ffffff"/><text class="s" x="2931.4" y="965.3">cell structure</text><text class="s" x="2931.4" y="977.3">disassembly</text><text class="s" x="2931.4" y="989.3">during apoptosis</text></g>
<g><rect class="n" x="3368.5" y="949.5" width="85" height="48" fill="#ffffff"/><text class="s" x="3408.9" y="972.3">regulation of</text><text class="s" x="3408.9" y="984.3">neuron apoptosis</text></g>
<g><rect class="n" x="3477.5" y="949.5" width="91" height="48" fill="#ffffff"/><text class="s" x="3520.9" y="972.3">negative regulation</text><text class="s" x="3520.9" y="984.3">of apoptosis</text></g>
<g><rect class="n" x="2633.5" y="1058.5" width="99" height="48" fill="#ffffff"/><text class="s" x="2680.9" y="1081.3">vacuole organization</text><text class="s" x="2680.9" y="1093.3">and biogenesis</text></g>
<g><rect class="n" x="2762.5" y="1056.5" width="120" height="53" fill="#ff6347"/><text class="b" x="2821.5" y="1070.4">DNA fragmentation</text><text class="b" x="2821.5" y="1086.4">during apoptosis</text><text class="b" x="2821.5" y="1102.4">(Human)</text></g>
<g><rect class="n" x="3405.5" y="1056.5" width="123" height="53" fill="#ff6347"/><text class="b" x="3466" y="1070.4">negative regulation</text><text class="b" x="3466" y="1086.4">of neuron apoptosis</text><text class="b" x="3466" y="1102.4">(Human)</text></g>
<g><rect class="n" x="3318.5" y="1157.5" width="139" height="53" fill="#add8e6"/><text class="b" x="3387" y="1172.4">lysosome organization</text><text class="b" x="3387" y="1188.4">and biogenesis</text><text class="b" x="3387" y="1204.4">(Mouse)</text></g>
<g><rect class="n" x="3857.5" y="106.5" width="96" height="48" fill="#ffffff"/><text class="s" x="3903.4" y="134.3">biological regulation</text></g>
<g><rect class="n" x="4241.5" y="106.5" width="72" height="48" fill="#ffffff"/><text class="s" x="4275.4" y="129.3">response to</text><text class="s" x="4275.4" y="141.3">stimulus</text></g>
<g><rect class="n" x="3908.5" y="205.5" width="80" height="48" fill="#ffffff"/><text class="s" x="3946.4" y="228.3">regulation of</text><text class="s" x="3946.4" y="240.3">biological quality</text></g>
<g><rect class="n" x="4116.5" y="205.5" width="72" height="48" fill="#ffffff"/><text class="s" x="4150.4" y="221.3">regulation of</text><text class="s" x="4150.4" y="233.3">a molecular</text><text class="s" x="4150.4" y="245.3">function</text></g>
<g><rect class="n" x="4420.5" y="205.5" width="72" height="48" fill="#ffffff"/><text class="s" x="4454.4" y="233.3">behavior</text></g>
<g><rect class="n" x="4069.5" y="310.5" width="72" height="48" fill="#ffffff"/><text class="s" x="4103.4" y="333.3">homeostatic</text><text class="s" x="4103.4" y="345.3">process</text></g>
<g><rect class="n" x="4165.5" y="310.5" width="77" height="48" fill="#ffffff"/><text class="s" x="4201.9" y="333.3">regulation of</text><text class="s" x="4201.9" y="345.3">catalytic activity</text></g>
<g><rect class="n" x="4266.5" y="310.5" width="118" height="48" fill="#add8e6"/><text class="b" x="4324.5" y="329.9">grooming behavior</text><text class="b" x="4324.5" y="345.9">(Mouse)</text></g>
<g><rect class="n" x="4408.5" y="310.5" width="96" height="48" fill="#ffffff"/><text class="s" x="4454.4" y="338.3">locomotory behavior</text></g>
<g><rect class="n" x="4528.5" y="310.5" width="72" height="48" fill="#ffffff"/><text class="s" x="4562.4" y="338.3">adult behavior</text></g>
<g><rect class="n" x="4624.5" y="310.5" width="74" height="48" fill="#ffffff"/><text class="s" x="4659.4" y="333.3">learning and/or</text><text class="s" x="4659.4" y="345.3">memory</text></g>
<g><rect class="n" x="3764.5" y="418.5" width="72" height="48" fill="#ffffff"/><text class="s" x="3798.4" y="434.3">regulation of</text><text class="s" x="3798.4" y="446.3">developmental</text><text class="s" x="3798.4" y="458.3">process</text></g>
<g><rect class="n" x="4062.5" y="418.5" width="99" height="48" fill="#ffffff"/><text class="s" x="4109.9" y="446.3">cellular homeostasis</text></g>
<g><rect class="n" x="4185.5" y="418.5" width="107" height="48" fill="#ffffff"/><text class="s" x="4236.9" y="446.3">chemical homeostasis</text></g>
<g><rect class="n" x="4320.5" y="418.5" width="82" height="48" fill="#ffffff"/><text class="s" x="4359.4" y="441.3">regulation of</text><text class="s" x="4359.4" y="453.3">hydrolase activity</text></g>
<g><rect class="n" x="4465.5" y="416.5" width="104" height="53" fill="#add8e6"/><text class="b" x="4516.5" y="430.4">adult locomotory</text><text class="b" x="4516.5" y="446.4">behavior</text><text class="b" x="4516.5" y="462.4">(Mouse)</text></g>
<g><rect class="n" x="4625.5" y="418.5" width="72" height="48" fill="#ffffff"/><text class="s" x="4659.4" y="446.3">learning</text></g>
<g><rect class="n" x="3737.5" y="528.5" width="99" height="48" fill="#ffffff"/><text class="s" x="3784.9" y="544.3">regulation of</text><text class="s" x="3784.9" y="556.3">anatomical structure</text><text class="s" x="3784.9" y="568.3">morphogenesis</text></g>
<g><rect class="n" x="3961.5" y="528.5" width="72" height="48" fill="#ffffff"/><text class="s" x="3995.4" y="556.3">growth</text></g>
<g><rect class="n" x="4108.5" y="528.5" width="82" height="48" fill="#ffffff"/><text class="s" x="4147.4" y="550.3">cellular chemical</text><text class="s" x="4147.4" y="562.3">homeostasis</text></g>
<g><rect class="n" x="4214.5" y="528.5" width="80" height="48" fill="#ffffff"/><text class="s" x="4252.4" y="556.3">ion homeostasis</text></g>
<g><rect class="n" x="4318.5" y="517.5" width="91" height="69" fill="#add8e6"/><text class="b" x="4363" y="531.9">regulation of</text><text class="b" x="4363" y="547.9">phospholipase</text><text class="b" x="4363" y="563.9">A2 activity</text><text class="b" x="4363" y="579.9">(Mouse)</text></g>
<g><rect class="n" x="4625.5" y="525.5" width="72" height="53" fill="#add8e6"/><text class="b" x="4660.5" y="540.4">associative</text><text class="b" x="4660.5" y="556.4">learning</text><text class="b" x="4660.5" y="572.4">(Mouse)</text></g>
<g><rect class="n" x="3742.5" y="637.5" width="94" height="48" fill="#ffffff"/><text class="s" x="3787.4" y="660.3">regulation of</text><text class="s" x="3787.4" y="672.3">cell morphogenesis</text></g>
<g><rect class="n" x="4028.5" y="637.5" width="72" height="48" fill="#ffffff"/><text class="s" x="4062.4" y="660.3">regulation of</text><text class="s" x="4062.4" y="672.3">growth</text></g>
<g><rect class="n" x="4150.5" y="637.5" width="72" height="48" fill="#ffffff"/><text class="s" x="4184.4" y="660.3">cellular ion</text><text class="s" x="4184.4" y="672.3">homeostasis</text></g>
<g><rect class="n" x="4246.5" y="637.5" width="94" height="48" fill="#ffffff"/><text class="s" x="4291.4" y="665.3">cation homeostasis</text></g>
<g><rect class="n" x="3809.5" y="738.5" width="72" height="48" fill="#ffffff"/><text class="s" x="3843.4" y="761.3">regulation of</text><text class="s" x="3843.4" y="773.3">cell size</text></g>
<g><rect class="n" x="4012.5" y="738.5" width="90" height="48" fill="#ffffff"/><text class="s" x="4055.4" y="761.3">negative regulation</text><text class="s" x="4055.4" y="773.3">of growth</text></g>
<g><rect class="n" x="4177.5" y="738.5" width="72" height="48" fill="#ffffff"/><text class="s" x="4211.4" y="761.3">cellular cation</text><text class="s" x="4211.4" y="773.3">homeostasis</text></g>
<g><rect class="n" x="4273.5" y="738.5" width="101" height="48" fill="#ffffff"/><text class="s" x="4321.9" y="761.3">monovalent inorganic</text><text class="s" x="4321.9" y="773.3">cation homeostasis</text></g>
<g><rect class="n" x="3872.5" y="840.5" width="72" height="48" fill="#ffffff"/><text class="s" x="3906.4" y="868.3">cell growth</text></g>
<g><rect class="n" x="4170.5" y="840.5" width="94" height="48" fill="#ffffff"/><text class="s" x="4215.4" y="856.3">cellular monovalent</text><text class="s" x="4215.4" y="868.3">inorganic cation</text><text class="s" x="4215.4" y="880.3">homeostasis</text></g>
<g><rect class="n" x="4288.5" y="840.5" width="72" height="48" fill="#ffffff"/><text class="s" x="4322.4" y="862.3">regulation of</text><text class="s" x="4322.4" y="874.3">pH</text></g>
<g><rect class="n" x="3709.5" y="949.5" width="91" height="48" fill="#ffffff"/><text class="s" x="3752.9" y="972.3">negative regulation</text><text class="s" x="3752.9" y="984.3">of cell size</text></g>
<g><rect class="n" x="3854.5" y="949.5" width="72" height="48" fill="#ffffff"/><text class="s" x="3888.4" y="972.3">regulation of</text><text class="s" x="3888.4" y="984.3">cell growth</text></g>
<g><rect class="n" x="4186.5" y="949.5" width="72" height="48" fill="#ffffff"/><text class="s" x="4220.4" y="972.3">regulation of</text><text class="s" x="4220.4" y="984.3">cellular pH</text></g>
<g><rect class="n" x="3762.5" y="1056.5" width="120" height="53" fill="#ff6347"/><text class="b" x="3821.5" y="1070.4">negative regulation</text><text class="b" x="3821.5" y="1086.4">of cell growth</text><text class="b" x="3821.5" y="1102.4">(Human)</text></g>
<g><rect class="n" x="4186.5" y="1058.5" width="72" height="48" fill="#ffffff"/><text class="s" x="4220.4" y="1074.3">regulation of</text><text class="s" x="4220.4" y="1086.3">intracellular</text><text class="s" x="4220.4" y="1098.3">pH</text></g>
<g><rect class="n" x="4284.5" y="1058.5" width="72" height="48" fill="#ffffff"/><text class="s" x="4318.4" y="1086.3">pH reduction</text></g>
<g><rect class="n" x="4186.5" y="1160.5" width="72" height="48" fill="#ffffff"/><text class="s" x="4220.4" y="1182.3">intracellular</text><text class="s" x="4220.4" y="1194.3">pH reduction</text></g>
<g><rect class="n" x="3752.5" y="1258.5" width="106" height="53" fill="#ff6347"/><text class="b" x="3804.5" y="1273.4">lysosomal lumen</text><text class="b" x="3804.5" y="1289.4">acidification</text><text class="b" x="3804.5" y="1305.4">(Human)</text></g>
</svg>
</body></html>
